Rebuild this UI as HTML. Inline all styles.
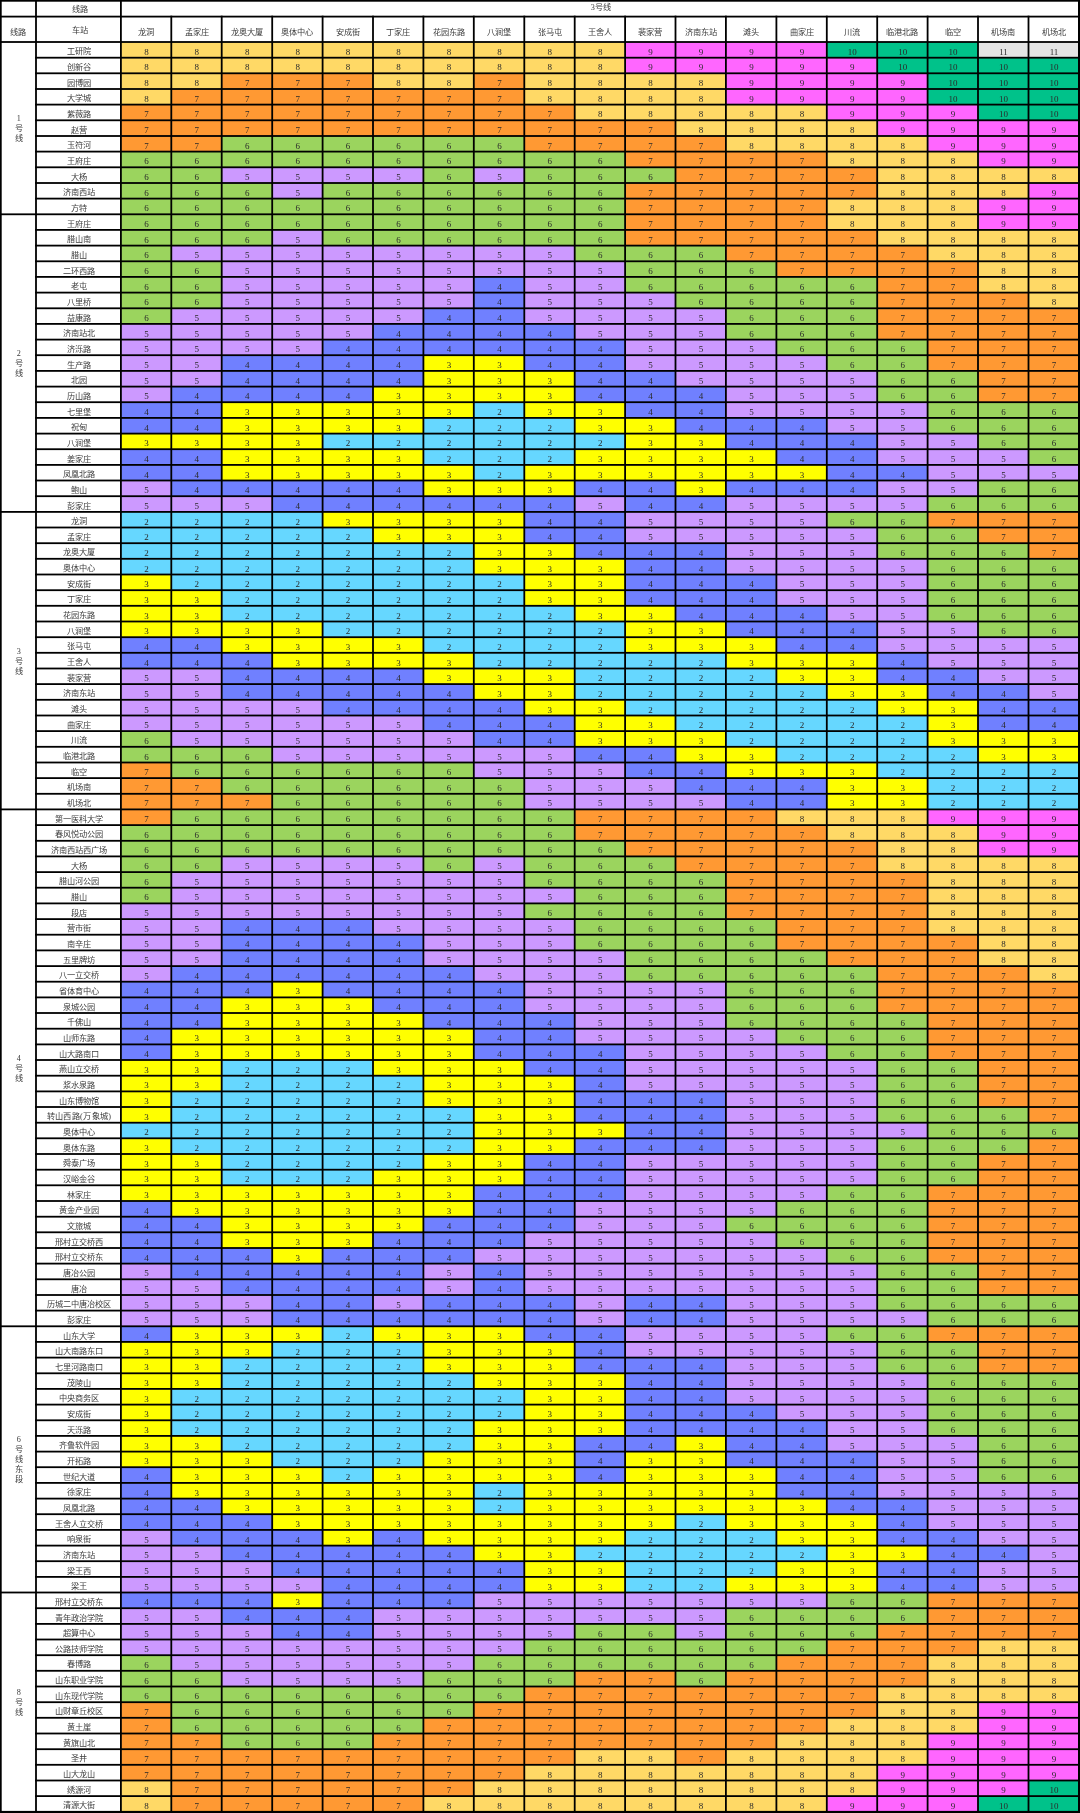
<!DOCTYPE html>
<html lang="zh-CN"><head><meta charset="utf-8"><title>3号线</title>
<style>
html,body{margin:0;padding:0;background:#fff;width:1080px;height:1813px;overflow:hidden;}
svg{display:block;will-change:transform;font-family:"Liberation Serif",serif;}
.c2{fill:#66d7ff}.c3{fill:#ffff00}.c4{fill:#7080ff}.c5{fill:#cc99ff}.c6{fill:#9bd45e}.c7{fill:#ff9933}.c8{fill:#ffd966}.c9{fill:#ff66ff}.c10{fill:#00c28a}.c11{fill:#e4e4e4}
</style></head><body>
<svg width="1080" height="1813" viewBox="0 0 1080 1813">
<rect x="0" y="0" width="1080" height="1813" fill="#fff"/>
<rect x="120.9" y="42" width="504.2" height="15.8" class="c8"/>
<rect x="625.1" y="42" width="201.7" height="15.8" class="c9"/>
<rect x="826.8" y="42" width="151.3" height="15.8" class="c10"/>
<rect x="978" y="42" width="100.8" height="15.8" class="c11"/>
<rect x="120.9" y="57.7" width="504.2" height="15.8" class="c8"/>
<rect x="625.1" y="57.7" width="252.1" height="15.8" class="c9"/>
<rect x="877.2" y="57.7" width="201.7" height="15.8" class="c10"/>
<rect x="120.9" y="73.3" width="100.8" height="15.8" class="c8"/>
<rect x="221.7" y="73.3" width="151.3" height="15.8" class="c7"/>
<rect x="373" y="73.3" width="100.8" height="15.8" class="c8"/>
<rect x="473.8" y="73.3" width="50.4" height="15.8" class="c7"/>
<rect x="524.3" y="73.3" width="201.7" height="15.8" class="c8"/>
<rect x="725.9" y="73.3" width="201.7" height="15.8" class="c9"/>
<rect x="927.6" y="73.3" width="151.3" height="15.8" class="c10"/>
<rect x="120.9" y="89" width="50.4" height="15.8" class="c8"/>
<rect x="171.3" y="89" width="352.9" height="15.8" class="c7"/>
<rect x="524.3" y="89" width="201.7" height="15.8" class="c8"/>
<rect x="725.9" y="89" width="201.7" height="15.8" class="c9"/>
<rect x="927.6" y="89" width="151.3" height="15.8" class="c10"/>
<rect x="120.9" y="104.6" width="453.8" height="15.8" class="c7"/>
<rect x="574.7" y="104.6" width="252.1" height="15.8" class="c8"/>
<rect x="826.8" y="104.6" width="151.3" height="15.8" class="c9"/>
<rect x="978" y="104.6" width="100.8" height="15.8" class="c10"/>
<rect x="120.9" y="120.3" width="554.6" height="15.8" class="c7"/>
<rect x="675.5" y="120.3" width="201.7" height="15.8" class="c8"/>
<rect x="877.2" y="120.3" width="201.7" height="15.8" class="c9"/>
<rect x="120.9" y="136" width="100.8" height="15.8" class="c7"/>
<rect x="221.7" y="136" width="302.5" height="15.8" class="c6"/>
<rect x="524.3" y="136" width="201.7" height="15.8" class="c7"/>
<rect x="725.9" y="136" width="201.7" height="15.8" class="c8"/>
<rect x="927.6" y="136" width="151.3" height="15.8" class="c9"/>
<rect x="120.9" y="151.6" width="504.2" height="15.8" class="c6"/>
<rect x="625.1" y="151.6" width="201.7" height="15.8" class="c7"/>
<rect x="826.8" y="151.6" width="151.3" height="15.8" class="c8"/>
<rect x="978" y="151.6" width="100.8" height="15.8" class="c9"/>
<rect x="120.9" y="167.3" width="100.8" height="15.8" class="c6"/>
<rect x="221.7" y="167.3" width="201.7" height="15.8" class="c5"/>
<rect x="423.4" y="167.3" width="50.4" height="15.8" class="c6"/>
<rect x="473.8" y="167.3" width="50.4" height="15.8" class="c5"/>
<rect x="524.3" y="167.3" width="151.3" height="15.8" class="c6"/>
<rect x="675.5" y="167.3" width="201.7" height="15.8" class="c7"/>
<rect x="877.2" y="167.3" width="201.7" height="15.8" class="c8"/>
<rect x="120.9" y="183" width="151.3" height="15.8" class="c6"/>
<rect x="272.2" y="183" width="50.4" height="15.8" class="c5"/>
<rect x="322.6" y="183" width="302.5" height="15.8" class="c6"/>
<rect x="625.1" y="183" width="252.1" height="15.8" class="c7"/>
<rect x="877.2" y="183" width="151.3" height="15.8" class="c8"/>
<rect x="1028.5" y="183" width="50.4" height="15.8" class="c9"/>
<rect x="120.9" y="198.6" width="504.2" height="15.8" class="c6"/>
<rect x="625.1" y="198.6" width="201.7" height="15.8" class="c7"/>
<rect x="826.8" y="198.6" width="151.3" height="15.8" class="c8"/>
<rect x="978" y="198.6" width="100.8" height="15.8" class="c9"/>
<rect x="120.9" y="214.3" width="504.2" height="15.8" class="c6"/>
<rect x="625.1" y="214.3" width="201.7" height="15.8" class="c7"/>
<rect x="826.8" y="214.3" width="151.3" height="15.8" class="c8"/>
<rect x="978" y="214.3" width="100.8" height="15.8" class="c9"/>
<rect x="120.9" y="229.9" width="151.3" height="15.8" class="c6"/>
<rect x="272.2" y="229.9" width="50.4" height="15.8" class="c5"/>
<rect x="322.6" y="229.9" width="302.5" height="15.8" class="c6"/>
<rect x="625.1" y="229.9" width="252.1" height="15.8" class="c7"/>
<rect x="877.2" y="229.9" width="201.7" height="15.8" class="c8"/>
<rect x="120.9" y="245.6" width="50.4" height="15.8" class="c6"/>
<rect x="171.3" y="245.6" width="403.4" height="15.8" class="c5"/>
<rect x="574.7" y="245.6" width="151.3" height="15.8" class="c6"/>
<rect x="725.9" y="245.6" width="201.7" height="15.8" class="c7"/>
<rect x="927.6" y="245.6" width="151.3" height="15.8" class="c8"/>
<rect x="120.9" y="261.3" width="100.8" height="15.8" class="c6"/>
<rect x="221.7" y="261.3" width="403.4" height="15.8" class="c5"/>
<rect x="625.1" y="261.3" width="151.3" height="15.8" class="c6"/>
<rect x="776.4" y="261.3" width="201.7" height="15.8" class="c7"/>
<rect x="978" y="261.3" width="100.8" height="15.8" class="c8"/>
<rect x="120.9" y="276.9" width="100.8" height="15.8" class="c6"/>
<rect x="221.7" y="276.9" width="252.1" height="15.8" class="c5"/>
<rect x="473.8" y="276.9" width="50.4" height="15.8" class="c4"/>
<rect x="524.3" y="276.9" width="100.8" height="15.8" class="c5"/>
<rect x="625.1" y="276.9" width="252.1" height="15.8" class="c6"/>
<rect x="877.2" y="276.9" width="100.8" height="15.8" class="c7"/>
<rect x="978" y="276.9" width="100.8" height="15.8" class="c8"/>
<rect x="120.9" y="292.6" width="100.8" height="15.8" class="c6"/>
<rect x="221.7" y="292.6" width="252.1" height="15.8" class="c5"/>
<rect x="473.8" y="292.6" width="50.4" height="15.8" class="c4"/>
<rect x="524.3" y="292.6" width="151.3" height="15.8" class="c5"/>
<rect x="675.5" y="292.6" width="201.7" height="15.8" class="c6"/>
<rect x="877.2" y="292.6" width="151.3" height="15.8" class="c7"/>
<rect x="1028.5" y="292.6" width="50.4" height="15.8" class="c8"/>
<rect x="120.9" y="308.3" width="50.4" height="15.8" class="c6"/>
<rect x="171.3" y="308.3" width="252.1" height="15.8" class="c5"/>
<rect x="423.4" y="308.3" width="100.8" height="15.8" class="c4"/>
<rect x="524.3" y="308.3" width="201.7" height="15.8" class="c5"/>
<rect x="725.9" y="308.3" width="151.3" height="15.8" class="c6"/>
<rect x="877.2" y="308.3" width="201.7" height="15.8" class="c7"/>
<rect x="120.9" y="323.9" width="252.1" height="15.8" class="c5"/>
<rect x="373" y="323.9" width="201.7" height="15.8" class="c4"/>
<rect x="574.7" y="323.9" width="151.3" height="15.8" class="c5"/>
<rect x="725.9" y="323.9" width="151.3" height="15.8" class="c6"/>
<rect x="877.2" y="323.9" width="201.7" height="15.8" class="c7"/>
<rect x="120.9" y="339.6" width="201.7" height="15.8" class="c5"/>
<rect x="322.6" y="339.6" width="302.5" height="15.8" class="c4"/>
<rect x="625.1" y="339.6" width="151.3" height="15.8" class="c5"/>
<rect x="776.4" y="339.6" width="151.3" height="15.8" class="c6"/>
<rect x="927.6" y="339.6" width="151.3" height="15.8" class="c7"/>
<rect x="120.9" y="355.2" width="100.8" height="15.8" class="c5"/>
<rect x="221.7" y="355.2" width="201.7" height="15.8" class="c4"/>
<rect x="423.4" y="355.2" width="100.8" height="15.8" class="c3"/>
<rect x="524.3" y="355.2" width="100.8" height="15.8" class="c4"/>
<rect x="625.1" y="355.2" width="201.7" height="15.8" class="c5"/>
<rect x="826.8" y="355.2" width="100.8" height="15.8" class="c6"/>
<rect x="927.6" y="355.2" width="151.3" height="15.8" class="c7"/>
<rect x="120.9" y="370.9" width="100.8" height="15.8" class="c5"/>
<rect x="221.7" y="370.9" width="201.7" height="15.8" class="c4"/>
<rect x="423.4" y="370.9" width="151.3" height="15.8" class="c3"/>
<rect x="574.7" y="370.9" width="100.8" height="15.8" class="c4"/>
<rect x="675.5" y="370.9" width="201.7" height="15.8" class="c5"/>
<rect x="877.2" y="370.9" width="100.8" height="15.8" class="c6"/>
<rect x="978" y="370.9" width="100.8" height="15.8" class="c7"/>
<rect x="120.9" y="386.6" width="50.4" height="15.8" class="c5"/>
<rect x="171.3" y="386.6" width="201.7" height="15.8" class="c4"/>
<rect x="373" y="386.6" width="201.7" height="15.8" class="c3"/>
<rect x="574.7" y="386.6" width="151.3" height="15.8" class="c4"/>
<rect x="725.9" y="386.6" width="151.3" height="15.8" class="c5"/>
<rect x="877.2" y="386.6" width="100.8" height="15.8" class="c6"/>
<rect x="978" y="386.6" width="100.8" height="15.8" class="c7"/>
<rect x="120.9" y="402.2" width="100.8" height="15.8" class="c4"/>
<rect x="221.7" y="402.2" width="252.1" height="15.8" class="c3"/>
<rect x="473.8" y="402.2" width="50.4" height="15.8" class="c2"/>
<rect x="524.3" y="402.2" width="100.8" height="15.8" class="c3"/>
<rect x="625.1" y="402.2" width="100.8" height="15.8" class="c4"/>
<rect x="725.9" y="402.2" width="201.7" height="15.8" class="c5"/>
<rect x="927.6" y="402.2" width="151.3" height="15.8" class="c6"/>
<rect x="120.9" y="417.9" width="100.8" height="15.8" class="c4"/>
<rect x="221.7" y="417.9" width="201.7" height="15.8" class="c3"/>
<rect x="423.4" y="417.9" width="151.3" height="15.8" class="c2"/>
<rect x="574.7" y="417.9" width="100.8" height="15.8" class="c3"/>
<rect x="675.5" y="417.9" width="151.3" height="15.8" class="c4"/>
<rect x="826.8" y="417.9" width="100.8" height="15.8" class="c5"/>
<rect x="927.6" y="417.9" width="151.3" height="15.8" class="c6"/>
<rect x="120.9" y="433.6" width="201.7" height="15.8" class="c3"/>
<rect x="322.6" y="433.6" width="302.5" height="15.8" class="c2"/>
<rect x="625.1" y="433.6" width="100.8" height="15.8" class="c3"/>
<rect x="725.9" y="433.6" width="151.3" height="15.8" class="c4"/>
<rect x="877.2" y="433.6" width="100.8" height="15.8" class="c5"/>
<rect x="978" y="433.6" width="100.8" height="15.8" class="c6"/>
<rect x="120.9" y="449.2" width="100.8" height="15.8" class="c4"/>
<rect x="221.7" y="449.2" width="201.7" height="15.8" class="c3"/>
<rect x="423.4" y="449.2" width="151.3" height="15.8" class="c2"/>
<rect x="574.7" y="449.2" width="201.7" height="15.8" class="c3"/>
<rect x="776.4" y="449.2" width="100.8" height="15.8" class="c4"/>
<rect x="877.2" y="449.2" width="151.3" height="15.8" class="c5"/>
<rect x="1028.5" y="449.2" width="50.4" height="15.8" class="c6"/>
<rect x="120.9" y="464.9" width="100.8" height="15.8" class="c4"/>
<rect x="221.7" y="464.9" width="252.1" height="15.8" class="c3"/>
<rect x="473.8" y="464.9" width="50.4" height="15.8" class="c2"/>
<rect x="524.3" y="464.9" width="302.5" height="15.8" class="c3"/>
<rect x="826.8" y="464.9" width="100.8" height="15.8" class="c4"/>
<rect x="927.6" y="464.9" width="151.3" height="15.8" class="c5"/>
<rect x="120.9" y="480.5" width="50.4" height="15.8" class="c5"/>
<rect x="171.3" y="480.5" width="252.1" height="15.8" class="c4"/>
<rect x="423.4" y="480.5" width="151.3" height="15.8" class="c3"/>
<rect x="574.7" y="480.5" width="100.8" height="15.8" class="c4"/>
<rect x="675.5" y="480.5" width="50.4" height="15.8" class="c3"/>
<rect x="725.9" y="480.5" width="151.3" height="15.8" class="c4"/>
<rect x="877.2" y="480.5" width="100.8" height="15.8" class="c5"/>
<rect x="978" y="480.5" width="100.8" height="15.8" class="c6"/>
<rect x="120.9" y="496.2" width="151.3" height="15.8" class="c5"/>
<rect x="272.2" y="496.2" width="302.5" height="15.8" class="c4"/>
<rect x="574.7" y="496.2" width="50.4" height="15.8" class="c5"/>
<rect x="625.1" y="496.2" width="100.8" height="15.8" class="c4"/>
<rect x="725.9" y="496.2" width="201.7" height="15.8" class="c5"/>
<rect x="927.6" y="496.2" width="151.3" height="15.8" class="c6"/>
<rect x="120.9" y="511.9" width="201.7" height="15.8" class="c2"/>
<rect x="322.6" y="511.9" width="201.7" height="15.8" class="c3"/>
<rect x="524.3" y="511.9" width="100.8" height="15.8" class="c4"/>
<rect x="625.1" y="511.9" width="201.7" height="15.8" class="c5"/>
<rect x="826.8" y="511.9" width="100.8" height="15.8" class="c6"/>
<rect x="927.6" y="511.9" width="151.3" height="15.8" class="c7"/>
<rect x="120.9" y="527.5" width="252.1" height="15.8" class="c2"/>
<rect x="373" y="527.5" width="151.3" height="15.8" class="c3"/>
<rect x="524.3" y="527.5" width="100.8" height="15.8" class="c4"/>
<rect x="625.1" y="527.5" width="252.1" height="15.8" class="c5"/>
<rect x="877.2" y="527.5" width="100.8" height="15.8" class="c6"/>
<rect x="978" y="527.5" width="100.8" height="15.8" class="c7"/>
<rect x="120.9" y="543.2" width="352.9" height="15.8" class="c2"/>
<rect x="473.8" y="543.2" width="100.8" height="15.8" class="c3"/>
<rect x="574.7" y="543.2" width="151.3" height="15.8" class="c4"/>
<rect x="725.9" y="543.2" width="151.3" height="15.8" class="c5"/>
<rect x="877.2" y="543.2" width="151.3" height="15.8" class="c6"/>
<rect x="1028.5" y="543.2" width="50.4" height="15.8" class="c7"/>
<rect x="120.9" y="558.8" width="352.9" height="15.8" class="c2"/>
<rect x="473.8" y="558.8" width="151.3" height="15.8" class="c3"/>
<rect x="625.1" y="558.8" width="100.8" height="15.8" class="c4"/>
<rect x="725.9" y="558.8" width="201.7" height="15.8" class="c5"/>
<rect x="927.6" y="558.8" width="151.3" height="15.8" class="c6"/>
<rect x="120.9" y="574.5" width="50.4" height="15.8" class="c3"/>
<rect x="171.3" y="574.5" width="352.9" height="15.8" class="c2"/>
<rect x="524.3" y="574.5" width="100.8" height="15.8" class="c3"/>
<rect x="625.1" y="574.5" width="151.3" height="15.8" class="c4"/>
<rect x="776.4" y="574.5" width="151.3" height="15.8" class="c5"/>
<rect x="927.6" y="574.5" width="151.3" height="15.8" class="c6"/>
<rect x="120.9" y="590.2" width="100.8" height="15.8" class="c3"/>
<rect x="221.7" y="590.2" width="302.5" height="15.8" class="c2"/>
<rect x="524.3" y="590.2" width="100.8" height="15.8" class="c3"/>
<rect x="625.1" y="590.2" width="151.3" height="15.8" class="c4"/>
<rect x="776.4" y="590.2" width="151.3" height="15.8" class="c5"/>
<rect x="927.6" y="590.2" width="151.3" height="15.8" class="c6"/>
<rect x="120.9" y="605.8" width="100.8" height="15.8" class="c3"/>
<rect x="221.7" y="605.8" width="352.9" height="15.8" class="c2"/>
<rect x="574.7" y="605.8" width="100.8" height="15.8" class="c3"/>
<rect x="675.5" y="605.8" width="151.3" height="15.8" class="c4"/>
<rect x="826.8" y="605.8" width="100.8" height="15.8" class="c5"/>
<rect x="927.6" y="605.8" width="151.3" height="15.8" class="c6"/>
<rect x="120.9" y="621.5" width="201.7" height="15.8" class="c3"/>
<rect x="322.6" y="621.5" width="302.5" height="15.8" class="c2"/>
<rect x="625.1" y="621.5" width="100.8" height="15.8" class="c3"/>
<rect x="725.9" y="621.5" width="151.3" height="15.8" class="c4"/>
<rect x="877.2" y="621.5" width="100.8" height="15.8" class="c5"/>
<rect x="978" y="621.5" width="100.8" height="15.8" class="c6"/>
<rect x="120.9" y="637.2" width="100.8" height="15.8" class="c4"/>
<rect x="221.7" y="637.2" width="201.7" height="15.8" class="c3"/>
<rect x="423.4" y="637.2" width="201.7" height="15.8" class="c2"/>
<rect x="625.1" y="637.2" width="151.3" height="15.8" class="c3"/>
<rect x="776.4" y="637.2" width="100.8" height="15.8" class="c4"/>
<rect x="877.2" y="637.2" width="201.7" height="15.8" class="c5"/>
<rect x="120.9" y="652.8" width="151.3" height="15.8" class="c4"/>
<rect x="272.2" y="652.8" width="201.7" height="15.8" class="c3"/>
<rect x="473.8" y="652.8" width="252.1" height="15.8" class="c2"/>
<rect x="725.9" y="652.8" width="151.3" height="15.8" class="c3"/>
<rect x="877.2" y="652.8" width="50.4" height="15.8" class="c4"/>
<rect x="927.6" y="652.8" width="151.3" height="15.8" class="c5"/>
<rect x="120.9" y="668.5" width="100.8" height="15.8" class="c5"/>
<rect x="221.7" y="668.5" width="201.7" height="15.8" class="c4"/>
<rect x="423.4" y="668.5" width="151.3" height="15.8" class="c3"/>
<rect x="574.7" y="668.5" width="201.7" height="15.8" class="c2"/>
<rect x="776.4" y="668.5" width="100.8" height="15.8" class="c3"/>
<rect x="877.2" y="668.5" width="100.8" height="15.8" class="c4"/>
<rect x="978" y="668.5" width="100.8" height="15.8" class="c5"/>
<rect x="120.9" y="684.1" width="100.8" height="15.8" class="c5"/>
<rect x="221.7" y="684.1" width="252.1" height="15.8" class="c4"/>
<rect x="473.8" y="684.1" width="100.8" height="15.8" class="c3"/>
<rect x="574.7" y="684.1" width="252.1" height="15.8" class="c2"/>
<rect x="826.8" y="684.1" width="100.8" height="15.8" class="c3"/>
<rect x="927.6" y="684.1" width="100.8" height="15.8" class="c4"/>
<rect x="1028.5" y="684.1" width="50.4" height="15.8" class="c5"/>
<rect x="120.9" y="699.8" width="201.7" height="15.8" class="c5"/>
<rect x="322.6" y="699.8" width="201.7" height="15.8" class="c4"/>
<rect x="524.3" y="699.8" width="100.8" height="15.8" class="c3"/>
<rect x="625.1" y="699.8" width="252.1" height="15.8" class="c2"/>
<rect x="877.2" y="699.8" width="100.8" height="15.8" class="c3"/>
<rect x="978" y="699.8" width="100.8" height="15.8" class="c4"/>
<rect x="120.9" y="715.5" width="302.5" height="15.8" class="c5"/>
<rect x="423.4" y="715.5" width="151.3" height="15.8" class="c4"/>
<rect x="574.7" y="715.5" width="100.8" height="15.8" class="c3"/>
<rect x="675.5" y="715.5" width="252.1" height="15.8" class="c2"/>
<rect x="927.6" y="715.5" width="50.4" height="15.8" class="c3"/>
<rect x="978" y="715.5" width="100.8" height="15.8" class="c4"/>
<rect x="120.9" y="731.1" width="50.4" height="15.8" class="c6"/>
<rect x="171.3" y="731.1" width="302.5" height="15.8" class="c5"/>
<rect x="473.8" y="731.1" width="100.8" height="15.8" class="c4"/>
<rect x="574.7" y="731.1" width="151.3" height="15.8" class="c3"/>
<rect x="725.9" y="731.1" width="201.7" height="15.8" class="c2"/>
<rect x="927.6" y="731.1" width="151.3" height="15.8" class="c3"/>
<rect x="120.9" y="746.8" width="151.3" height="15.8" class="c6"/>
<rect x="272.2" y="746.8" width="302.5" height="15.8" class="c5"/>
<rect x="574.7" y="746.8" width="100.8" height="15.8" class="c4"/>
<rect x="675.5" y="746.8" width="100.8" height="15.8" class="c3"/>
<rect x="776.4" y="746.8" width="201.7" height="15.8" class="c2"/>
<rect x="978" y="746.8" width="100.8" height="15.8" class="c3"/>
<rect x="120.9" y="762.5" width="50.4" height="15.8" class="c7"/>
<rect x="171.3" y="762.5" width="302.5" height="15.8" class="c6"/>
<rect x="473.8" y="762.5" width="151.3" height="15.8" class="c5"/>
<rect x="625.1" y="762.5" width="100.8" height="15.8" class="c4"/>
<rect x="725.9" y="762.5" width="151.3" height="15.8" class="c3"/>
<rect x="877.2" y="762.5" width="201.7" height="15.8" class="c2"/>
<rect x="120.9" y="778.1" width="100.8" height="15.8" class="c7"/>
<rect x="221.7" y="778.1" width="302.5" height="15.8" class="c6"/>
<rect x="524.3" y="778.1" width="151.3" height="15.8" class="c5"/>
<rect x="675.5" y="778.1" width="151.3" height="15.8" class="c4"/>
<rect x="826.8" y="778.1" width="100.8" height="15.8" class="c3"/>
<rect x="927.6" y="778.1" width="151.3" height="15.8" class="c2"/>
<rect x="120.9" y="793.8" width="151.3" height="15.8" class="c7"/>
<rect x="272.2" y="793.8" width="252.1" height="15.8" class="c6"/>
<rect x="524.3" y="793.8" width="201.7" height="15.8" class="c5"/>
<rect x="725.9" y="793.8" width="100.8" height="15.8" class="c4"/>
<rect x="826.8" y="793.8" width="100.8" height="15.8" class="c3"/>
<rect x="927.6" y="793.8" width="151.3" height="15.8" class="c2"/>
<rect x="120.9" y="809.4" width="50.4" height="15.8" class="c7"/>
<rect x="171.3" y="809.4" width="403.4" height="15.8" class="c6"/>
<rect x="574.7" y="809.4" width="201.7" height="15.8" class="c7"/>
<rect x="776.4" y="809.4" width="151.3" height="15.8" class="c8"/>
<rect x="927.6" y="809.4" width="151.3" height="15.8" class="c9"/>
<rect x="120.9" y="825.1" width="453.8" height="15.8" class="c6"/>
<rect x="574.7" y="825.1" width="252.1" height="15.8" class="c7"/>
<rect x="826.8" y="825.1" width="151.3" height="15.8" class="c8"/>
<rect x="978" y="825.1" width="100.8" height="15.8" class="c9"/>
<rect x="120.9" y="840.8" width="504.2" height="15.8" class="c6"/>
<rect x="625.1" y="840.8" width="252.1" height="15.8" class="c7"/>
<rect x="877.2" y="840.8" width="100.8" height="15.8" class="c8"/>
<rect x="978" y="840.8" width="100.8" height="15.8" class="c9"/>
<rect x="120.9" y="856.4" width="100.8" height="15.8" class="c6"/>
<rect x="221.7" y="856.4" width="201.7" height="15.8" class="c5"/>
<rect x="423.4" y="856.4" width="50.4" height="15.8" class="c6"/>
<rect x="473.8" y="856.4" width="50.4" height="15.8" class="c5"/>
<rect x="524.3" y="856.4" width="151.3" height="15.8" class="c6"/>
<rect x="675.5" y="856.4" width="201.7" height="15.8" class="c7"/>
<rect x="877.2" y="856.4" width="201.7" height="15.8" class="c8"/>
<rect x="120.9" y="872.1" width="50.4" height="15.8" class="c6"/>
<rect x="171.3" y="872.1" width="352.9" height="15.8" class="c5"/>
<rect x="524.3" y="872.1" width="201.7" height="15.8" class="c6"/>
<rect x="725.9" y="872.1" width="201.7" height="15.8" class="c7"/>
<rect x="927.6" y="872.1" width="151.3" height="15.8" class="c8"/>
<rect x="120.9" y="887.7" width="50.4" height="15.8" class="c6"/>
<rect x="171.3" y="887.7" width="403.4" height="15.8" class="c5"/>
<rect x="574.7" y="887.7" width="151.3" height="15.8" class="c6"/>
<rect x="725.9" y="887.7" width="201.7" height="15.8" class="c7"/>
<rect x="927.6" y="887.7" width="151.3" height="15.8" class="c8"/>
<rect x="120.9" y="903.4" width="403.4" height="15.8" class="c5"/>
<rect x="524.3" y="903.4" width="201.7" height="15.8" class="c6"/>
<rect x="725.9" y="903.4" width="201.7" height="15.8" class="c7"/>
<rect x="927.6" y="903.4" width="151.3" height="15.8" class="c8"/>
<rect x="120.9" y="919.1" width="100.8" height="15.8" class="c5"/>
<rect x="221.7" y="919.1" width="151.3" height="15.8" class="c4"/>
<rect x="373" y="919.1" width="201.7" height="15.8" class="c5"/>
<rect x="574.7" y="919.1" width="201.7" height="15.8" class="c6"/>
<rect x="776.4" y="919.1" width="151.3" height="15.8" class="c7"/>
<rect x="927.6" y="919.1" width="151.3" height="15.8" class="c8"/>
<rect x="120.9" y="934.7" width="100.8" height="15.8" class="c5"/>
<rect x="221.7" y="934.7" width="201.7" height="15.8" class="c4"/>
<rect x="423.4" y="934.7" width="151.3" height="15.8" class="c5"/>
<rect x="574.7" y="934.7" width="201.7" height="15.8" class="c6"/>
<rect x="776.4" y="934.7" width="201.7" height="15.8" class="c7"/>
<rect x="978" y="934.7" width="100.8" height="15.8" class="c8"/>
<rect x="120.9" y="950.4" width="100.8" height="15.8" class="c5"/>
<rect x="221.7" y="950.4" width="201.7" height="15.8" class="c4"/>
<rect x="423.4" y="950.4" width="201.7" height="15.8" class="c5"/>
<rect x="625.1" y="950.4" width="201.7" height="15.8" class="c6"/>
<rect x="826.8" y="950.4" width="151.3" height="15.8" class="c7"/>
<rect x="978" y="950.4" width="100.8" height="15.8" class="c8"/>
<rect x="120.9" y="966.1" width="50.4" height="15.8" class="c5"/>
<rect x="171.3" y="966.1" width="302.5" height="15.8" class="c4"/>
<rect x="473.8" y="966.1" width="151.3" height="15.8" class="c5"/>
<rect x="625.1" y="966.1" width="252.1" height="15.8" class="c6"/>
<rect x="877.2" y="966.1" width="151.3" height="15.8" class="c7"/>
<rect x="1028.5" y="966.1" width="50.4" height="15.8" class="c8"/>
<rect x="120.9" y="981.7" width="151.3" height="15.8" class="c4"/>
<rect x="272.2" y="981.7" width="50.4" height="15.8" class="c3"/>
<rect x="322.6" y="981.7" width="201.7" height="15.8" class="c4"/>
<rect x="524.3" y="981.7" width="201.7" height="15.8" class="c5"/>
<rect x="725.9" y="981.7" width="151.3" height="15.8" class="c6"/>
<rect x="877.2" y="981.7" width="201.7" height="15.8" class="c7"/>
<rect x="120.9" y="997.4" width="100.8" height="15.8" class="c4"/>
<rect x="221.7" y="997.4" width="151.3" height="15.8" class="c3"/>
<rect x="373" y="997.4" width="151.3" height="15.8" class="c4"/>
<rect x="524.3" y="997.4" width="201.7" height="15.8" class="c5"/>
<rect x="725.9" y="997.4" width="151.3" height="15.8" class="c6"/>
<rect x="877.2" y="997.4" width="201.7" height="15.8" class="c7"/>
<rect x="120.9" y="1013" width="100.8" height="15.8" class="c4"/>
<rect x="221.7" y="1013" width="201.7" height="15.8" class="c3"/>
<rect x="423.4" y="1013" width="151.3" height="15.8" class="c4"/>
<rect x="574.7" y="1013" width="151.3" height="15.8" class="c5"/>
<rect x="725.9" y="1013" width="201.7" height="15.8" class="c6"/>
<rect x="927.6" y="1013" width="151.3" height="15.8" class="c7"/>
<rect x="120.9" y="1028.7" width="50.4" height="15.8" class="c4"/>
<rect x="171.3" y="1028.7" width="302.5" height="15.8" class="c3"/>
<rect x="473.8" y="1028.7" width="100.8" height="15.8" class="c4"/>
<rect x="574.7" y="1028.7" width="201.7" height="15.8" class="c5"/>
<rect x="776.4" y="1028.7" width="151.3" height="15.8" class="c6"/>
<rect x="927.6" y="1028.7" width="151.3" height="15.8" class="c7"/>
<rect x="120.9" y="1044.4" width="50.4" height="15.8" class="c4"/>
<rect x="171.3" y="1044.4" width="302.5" height="15.8" class="c3"/>
<rect x="473.8" y="1044.4" width="151.3" height="15.8" class="c4"/>
<rect x="625.1" y="1044.4" width="201.7" height="15.8" class="c5"/>
<rect x="826.8" y="1044.4" width="100.8" height="15.8" class="c6"/>
<rect x="927.6" y="1044.4" width="151.3" height="15.8" class="c7"/>
<rect x="120.9" y="1060" width="100.8" height="15.8" class="c3"/>
<rect x="221.7" y="1060" width="151.3" height="15.8" class="c2"/>
<rect x="373" y="1060" width="151.3" height="15.8" class="c3"/>
<rect x="524.3" y="1060" width="100.8" height="15.8" class="c4"/>
<rect x="625.1" y="1060" width="252.1" height="15.8" class="c5"/>
<rect x="877.2" y="1060" width="100.8" height="15.8" class="c6"/>
<rect x="978" y="1060" width="100.8" height="15.8" class="c7"/>
<rect x="120.9" y="1075.7" width="100.8" height="15.8" class="c3"/>
<rect x="221.7" y="1075.7" width="201.7" height="15.8" class="c2"/>
<rect x="423.4" y="1075.7" width="151.3" height="15.8" class="c3"/>
<rect x="574.7" y="1075.7" width="50.4" height="15.8" class="c4"/>
<rect x="625.1" y="1075.7" width="252.1" height="15.8" class="c5"/>
<rect x="877.2" y="1075.7" width="100.8" height="15.8" class="c6"/>
<rect x="978" y="1075.7" width="100.8" height="15.8" class="c7"/>
<rect x="120.9" y="1091.4" width="50.4" height="15.8" class="c3"/>
<rect x="171.3" y="1091.4" width="252.1" height="15.8" class="c2"/>
<rect x="423.4" y="1091.4" width="151.3" height="15.8" class="c3"/>
<rect x="574.7" y="1091.4" width="151.3" height="15.8" class="c4"/>
<rect x="725.9" y="1091.4" width="151.3" height="15.8" class="c5"/>
<rect x="877.2" y="1091.4" width="100.8" height="15.8" class="c6"/>
<rect x="978" y="1091.4" width="100.8" height="15.8" class="c7"/>
<rect x="120.9" y="1107" width="50.4" height="15.8" class="c3"/>
<rect x="171.3" y="1107" width="302.5" height="15.8" class="c2"/>
<rect x="473.8" y="1107" width="100.8" height="15.8" class="c3"/>
<rect x="574.7" y="1107" width="151.3" height="15.8" class="c4"/>
<rect x="725.9" y="1107" width="151.3" height="15.8" class="c5"/>
<rect x="877.2" y="1107" width="151.3" height="15.8" class="c6"/>
<rect x="1028.5" y="1107" width="50.4" height="15.8" class="c7"/>
<rect x="120.9" y="1122.7" width="352.9" height="15.8" class="c2"/>
<rect x="473.8" y="1122.7" width="151.3" height="15.8" class="c3"/>
<rect x="625.1" y="1122.7" width="100.8" height="15.8" class="c4"/>
<rect x="725.9" y="1122.7" width="201.7" height="15.8" class="c5"/>
<rect x="927.6" y="1122.7" width="151.3" height="15.8" class="c6"/>
<rect x="120.9" y="1138.3" width="50.4" height="15.8" class="c3"/>
<rect x="171.3" y="1138.3" width="302.5" height="15.8" class="c2"/>
<rect x="473.8" y="1138.3" width="100.8" height="15.8" class="c3"/>
<rect x="574.7" y="1138.3" width="151.3" height="15.8" class="c4"/>
<rect x="725.9" y="1138.3" width="151.3" height="15.8" class="c5"/>
<rect x="877.2" y="1138.3" width="151.3" height="15.8" class="c6"/>
<rect x="1028.5" y="1138.3" width="50.4" height="15.8" class="c7"/>
<rect x="120.9" y="1154" width="100.8" height="15.8" class="c3"/>
<rect x="221.7" y="1154" width="201.7" height="15.8" class="c2"/>
<rect x="423.4" y="1154" width="100.8" height="15.8" class="c3"/>
<rect x="524.3" y="1154" width="100.8" height="15.8" class="c4"/>
<rect x="625.1" y="1154" width="252.1" height="15.8" class="c5"/>
<rect x="877.2" y="1154" width="100.8" height="15.8" class="c6"/>
<rect x="978" y="1154" width="100.8" height="15.8" class="c7"/>
<rect x="120.9" y="1169.7" width="100.8" height="15.8" class="c3"/>
<rect x="221.7" y="1169.7" width="151.3" height="15.8" class="c2"/>
<rect x="373" y="1169.7" width="151.3" height="15.8" class="c3"/>
<rect x="524.3" y="1169.7" width="100.8" height="15.8" class="c4"/>
<rect x="625.1" y="1169.7" width="252.1" height="15.8" class="c5"/>
<rect x="877.2" y="1169.7" width="100.8" height="15.8" class="c6"/>
<rect x="978" y="1169.7" width="100.8" height="15.8" class="c7"/>
<rect x="120.9" y="1185.3" width="352.9" height="15.8" class="c3"/>
<rect x="473.8" y="1185.3" width="151.3" height="15.8" class="c4"/>
<rect x="625.1" y="1185.3" width="201.7" height="15.8" class="c5"/>
<rect x="826.8" y="1185.3" width="100.8" height="15.8" class="c6"/>
<rect x="927.6" y="1185.3" width="151.3" height="15.8" class="c7"/>
<rect x="120.9" y="1201" width="50.4" height="15.8" class="c4"/>
<rect x="171.3" y="1201" width="302.5" height="15.8" class="c3"/>
<rect x="473.8" y="1201" width="100.8" height="15.8" class="c4"/>
<rect x="574.7" y="1201" width="201.7" height="15.8" class="c5"/>
<rect x="776.4" y="1201" width="151.3" height="15.8" class="c6"/>
<rect x="927.6" y="1201" width="151.3" height="15.8" class="c7"/>
<rect x="120.9" y="1216.7" width="100.8" height="15.8" class="c4"/>
<rect x="221.7" y="1216.7" width="201.7" height="15.8" class="c3"/>
<rect x="423.4" y="1216.7" width="151.3" height="15.8" class="c4"/>
<rect x="574.7" y="1216.7" width="151.3" height="15.8" class="c5"/>
<rect x="725.9" y="1216.7" width="201.7" height="15.8" class="c6"/>
<rect x="927.6" y="1216.7" width="151.3" height="15.8" class="c7"/>
<rect x="120.9" y="1232.3" width="100.8" height="15.8" class="c4"/>
<rect x="221.7" y="1232.3" width="151.3" height="15.8" class="c3"/>
<rect x="373" y="1232.3" width="151.3" height="15.8" class="c4"/>
<rect x="524.3" y="1232.3" width="252.1" height="15.8" class="c5"/>
<rect x="776.4" y="1232.3" width="151.3" height="15.8" class="c6"/>
<rect x="927.6" y="1232.3" width="151.3" height="15.8" class="c7"/>
<rect x="120.9" y="1248" width="151.3" height="15.8" class="c4"/>
<rect x="272.2" y="1248" width="50.4" height="15.8" class="c3"/>
<rect x="322.6" y="1248" width="151.3" height="15.8" class="c4"/>
<rect x="473.8" y="1248" width="352.9" height="15.8" class="c5"/>
<rect x="826.8" y="1248" width="100.8" height="15.8" class="c6"/>
<rect x="927.6" y="1248" width="151.3" height="15.8" class="c7"/>
<rect x="120.9" y="1263.6" width="50.4" height="15.8" class="c5"/>
<rect x="171.3" y="1263.6" width="252.1" height="15.8" class="c4"/>
<rect x="423.4" y="1263.6" width="50.4" height="15.8" class="c5"/>
<rect x="473.8" y="1263.6" width="50.4" height="15.8" class="c4"/>
<rect x="524.3" y="1263.6" width="352.9" height="15.8" class="c5"/>
<rect x="877.2" y="1263.6" width="100.8" height="15.8" class="c6"/>
<rect x="978" y="1263.6" width="100.8" height="15.8" class="c7"/>
<rect x="120.9" y="1279.3" width="100.8" height="15.8" class="c5"/>
<rect x="221.7" y="1279.3" width="201.7" height="15.8" class="c4"/>
<rect x="423.4" y="1279.3" width="50.4" height="15.8" class="c5"/>
<rect x="473.8" y="1279.3" width="50.4" height="15.8" class="c4"/>
<rect x="524.3" y="1279.3" width="352.9" height="15.8" class="c5"/>
<rect x="877.2" y="1279.3" width="100.8" height="15.8" class="c6"/>
<rect x="978" y="1279.3" width="100.8" height="15.8" class="c7"/>
<rect x="120.9" y="1295" width="151.3" height="15.8" class="c5"/>
<rect x="272.2" y="1295" width="100.8" height="15.8" class="c4"/>
<rect x="373" y="1295" width="50.4" height="15.8" class="c5"/>
<rect x="423.4" y="1295" width="151.3" height="15.8" class="c4"/>
<rect x="574.7" y="1295" width="50.4" height="15.8" class="c5"/>
<rect x="625.1" y="1295" width="100.8" height="15.8" class="c4"/>
<rect x="725.9" y="1295" width="151.3" height="15.8" class="c5"/>
<rect x="877.2" y="1295" width="201.7" height="15.8" class="c6"/>
<rect x="120.9" y="1310.6" width="151.3" height="15.8" class="c5"/>
<rect x="272.2" y="1310.6" width="302.5" height="15.8" class="c4"/>
<rect x="574.7" y="1310.6" width="50.4" height="15.8" class="c5"/>
<rect x="625.1" y="1310.6" width="100.8" height="15.8" class="c4"/>
<rect x="725.9" y="1310.6" width="201.7" height="15.8" class="c5"/>
<rect x="927.6" y="1310.6" width="151.3" height="15.8" class="c6"/>
<rect x="120.9" y="1326.3" width="50.4" height="15.8" class="c4"/>
<rect x="171.3" y="1326.3" width="151.3" height="15.8" class="c3"/>
<rect x="322.6" y="1326.3" width="50.4" height="15.8" class="c2"/>
<rect x="373" y="1326.3" width="151.3" height="15.8" class="c3"/>
<rect x="524.3" y="1326.3" width="100.8" height="15.8" class="c4"/>
<rect x="625.1" y="1326.3" width="201.7" height="15.8" class="c5"/>
<rect x="826.8" y="1326.3" width="100.8" height="15.8" class="c6"/>
<rect x="927.6" y="1326.3" width="151.3" height="15.8" class="c7"/>
<rect x="120.9" y="1341.9" width="151.3" height="15.8" class="c3"/>
<rect x="272.2" y="1341.9" width="151.3" height="15.8" class="c2"/>
<rect x="423.4" y="1341.9" width="151.3" height="15.8" class="c3"/>
<rect x="574.7" y="1341.9" width="50.4" height="15.8" class="c4"/>
<rect x="625.1" y="1341.9" width="252.1" height="15.8" class="c5"/>
<rect x="877.2" y="1341.9" width="100.8" height="15.8" class="c6"/>
<rect x="978" y="1341.9" width="100.8" height="15.8" class="c7"/>
<rect x="120.9" y="1357.6" width="100.8" height="15.8" class="c3"/>
<rect x="221.7" y="1357.6" width="201.7" height="15.8" class="c2"/>
<rect x="423.4" y="1357.6" width="151.3" height="15.8" class="c3"/>
<rect x="574.7" y="1357.6" width="151.3" height="15.8" class="c4"/>
<rect x="725.9" y="1357.6" width="151.3" height="15.8" class="c5"/>
<rect x="877.2" y="1357.6" width="100.8" height="15.8" class="c6"/>
<rect x="978" y="1357.6" width="100.8" height="15.8" class="c7"/>
<rect x="120.9" y="1373.3" width="100.8" height="15.8" class="c3"/>
<rect x="221.7" y="1373.3" width="252.1" height="15.8" class="c2"/>
<rect x="473.8" y="1373.3" width="151.3" height="15.8" class="c3"/>
<rect x="625.1" y="1373.3" width="100.8" height="15.8" class="c4"/>
<rect x="725.9" y="1373.3" width="201.7" height="15.8" class="c5"/>
<rect x="927.6" y="1373.3" width="151.3" height="15.8" class="c6"/>
<rect x="120.9" y="1388.9" width="50.4" height="15.8" class="c3"/>
<rect x="171.3" y="1388.9" width="352.9" height="15.8" class="c2"/>
<rect x="524.3" y="1388.9" width="100.8" height="15.8" class="c3"/>
<rect x="625.1" y="1388.9" width="100.8" height="15.8" class="c4"/>
<rect x="725.9" y="1388.9" width="201.7" height="15.8" class="c5"/>
<rect x="927.6" y="1388.9" width="151.3" height="15.8" class="c6"/>
<rect x="120.9" y="1404.6" width="50.4" height="15.8" class="c3"/>
<rect x="171.3" y="1404.6" width="352.9" height="15.8" class="c2"/>
<rect x="524.3" y="1404.6" width="100.8" height="15.8" class="c3"/>
<rect x="625.1" y="1404.6" width="151.3" height="15.8" class="c4"/>
<rect x="776.4" y="1404.6" width="151.3" height="15.8" class="c5"/>
<rect x="927.6" y="1404.6" width="151.3" height="15.8" class="c6"/>
<rect x="120.9" y="1420.3" width="50.4" height="15.8" class="c3"/>
<rect x="171.3" y="1420.3" width="302.5" height="15.8" class="c2"/>
<rect x="473.8" y="1420.3" width="151.3" height="15.8" class="c3"/>
<rect x="625.1" y="1420.3" width="201.7" height="15.8" class="c4"/>
<rect x="826.8" y="1420.3" width="100.8" height="15.8" class="c5"/>
<rect x="927.6" y="1420.3" width="151.3" height="15.8" class="c6"/>
<rect x="120.9" y="1435.9" width="100.8" height="15.8" class="c3"/>
<rect x="221.7" y="1435.9" width="252.1" height="15.8" class="c2"/>
<rect x="473.8" y="1435.9" width="100.8" height="15.8" class="c3"/>
<rect x="574.7" y="1435.9" width="100.8" height="15.8" class="c4"/>
<rect x="675.5" y="1435.9" width="50.4" height="15.8" class="c3"/>
<rect x="725.9" y="1435.9" width="100.8" height="15.8" class="c4"/>
<rect x="826.8" y="1435.9" width="151.3" height="15.8" class="c5"/>
<rect x="978" y="1435.9" width="100.8" height="15.8" class="c6"/>
<rect x="120.9" y="1451.6" width="151.3" height="15.8" class="c3"/>
<rect x="272.2" y="1451.6" width="151.3" height="15.8" class="c2"/>
<rect x="423.4" y="1451.6" width="151.3" height="15.8" class="c3"/>
<rect x="574.7" y="1451.6" width="50.4" height="15.8" class="c4"/>
<rect x="625.1" y="1451.6" width="100.8" height="15.8" class="c3"/>
<rect x="725.9" y="1451.6" width="151.3" height="15.8" class="c4"/>
<rect x="877.2" y="1451.6" width="100.8" height="15.8" class="c5"/>
<rect x="978" y="1451.6" width="100.8" height="15.8" class="c6"/>
<rect x="120.9" y="1467.2" width="50.4" height="15.8" class="c4"/>
<rect x="171.3" y="1467.2" width="151.3" height="15.8" class="c3"/>
<rect x="322.6" y="1467.2" width="50.4" height="15.8" class="c2"/>
<rect x="373" y="1467.2" width="201.7" height="15.8" class="c3"/>
<rect x="574.7" y="1467.2" width="50.4" height="15.8" class="c4"/>
<rect x="625.1" y="1467.2" width="151.3" height="15.8" class="c3"/>
<rect x="776.4" y="1467.2" width="100.8" height="15.8" class="c4"/>
<rect x="877.2" y="1467.2" width="100.8" height="15.8" class="c5"/>
<rect x="978" y="1467.2" width="100.8" height="15.8" class="c6"/>
<rect x="120.9" y="1482.9" width="50.4" height="15.8" class="c4"/>
<rect x="171.3" y="1482.9" width="302.5" height="15.8" class="c3"/>
<rect x="473.8" y="1482.9" width="50.4" height="15.8" class="c2"/>
<rect x="524.3" y="1482.9" width="252.1" height="15.8" class="c3"/>
<rect x="776.4" y="1482.9" width="100.8" height="15.8" class="c4"/>
<rect x="877.2" y="1482.9" width="201.7" height="15.8" class="c5"/>
<rect x="120.9" y="1498.6" width="100.8" height="15.8" class="c4"/>
<rect x="221.7" y="1498.6" width="252.1" height="15.8" class="c3"/>
<rect x="473.8" y="1498.6" width="50.4" height="15.8" class="c2"/>
<rect x="524.3" y="1498.6" width="302.5" height="15.8" class="c3"/>
<rect x="826.8" y="1498.6" width="100.8" height="15.8" class="c4"/>
<rect x="927.6" y="1498.6" width="151.3" height="15.8" class="c5"/>
<rect x="120.9" y="1514.2" width="151.3" height="15.8" class="c4"/>
<rect x="272.2" y="1514.2" width="403.4" height="15.8" class="c3"/>
<rect x="675.5" y="1514.2" width="50.4" height="15.8" class="c2"/>
<rect x="725.9" y="1514.2" width="151.3" height="15.8" class="c3"/>
<rect x="877.2" y="1514.2" width="50.4" height="15.8" class="c4"/>
<rect x="927.6" y="1514.2" width="151.3" height="15.8" class="c5"/>
<rect x="120.9" y="1529.9" width="50.4" height="15.8" class="c5"/>
<rect x="171.3" y="1529.9" width="151.3" height="15.8" class="c4"/>
<rect x="322.6" y="1529.9" width="50.4" height="15.8" class="c3"/>
<rect x="373" y="1529.9" width="50.4" height="15.8" class="c4"/>
<rect x="423.4" y="1529.9" width="201.7" height="15.8" class="c3"/>
<rect x="625.1" y="1529.9" width="151.3" height="15.8" class="c2"/>
<rect x="776.4" y="1529.9" width="100.8" height="15.8" class="c3"/>
<rect x="877.2" y="1529.9" width="100.8" height="15.8" class="c4"/>
<rect x="978" y="1529.9" width="100.8" height="15.8" class="c5"/>
<rect x="120.9" y="1545.6" width="100.8" height="15.8" class="c5"/>
<rect x="221.7" y="1545.6" width="252.1" height="15.8" class="c4"/>
<rect x="473.8" y="1545.6" width="100.8" height="15.8" class="c3"/>
<rect x="574.7" y="1545.6" width="252.1" height="15.8" class="c2"/>
<rect x="826.8" y="1545.6" width="100.8" height="15.8" class="c3"/>
<rect x="927.6" y="1545.6" width="100.8" height="15.8" class="c4"/>
<rect x="1028.5" y="1545.6" width="50.4" height="15.8" class="c5"/>
<rect x="120.9" y="1561.2" width="151.3" height="15.8" class="c5"/>
<rect x="272.2" y="1561.2" width="252.1" height="15.8" class="c4"/>
<rect x="524.3" y="1561.2" width="100.8" height="15.8" class="c3"/>
<rect x="625.1" y="1561.2" width="151.3" height="15.8" class="c2"/>
<rect x="776.4" y="1561.2" width="100.8" height="15.8" class="c3"/>
<rect x="877.2" y="1561.2" width="100.8" height="15.8" class="c4"/>
<rect x="978" y="1561.2" width="100.8" height="15.8" class="c5"/>
<rect x="120.9" y="1576.9" width="201.7" height="15.8" class="c5"/>
<rect x="322.6" y="1576.9" width="201.7" height="15.8" class="c4"/>
<rect x="524.3" y="1576.9" width="100.8" height="15.8" class="c3"/>
<rect x="625.1" y="1576.9" width="100.8" height="15.8" class="c2"/>
<rect x="725.9" y="1576.9" width="151.3" height="15.8" class="c3"/>
<rect x="877.2" y="1576.9" width="100.8" height="15.8" class="c4"/>
<rect x="978" y="1576.9" width="100.8" height="15.8" class="c5"/>
<rect x="120.9" y="1592.5" width="151.3" height="15.8" class="c4"/>
<rect x="272.2" y="1592.5" width="50.4" height="15.8" class="c3"/>
<rect x="322.6" y="1592.5" width="151.3" height="15.8" class="c4"/>
<rect x="473.8" y="1592.5" width="352.9" height="15.8" class="c5"/>
<rect x="826.8" y="1592.5" width="100.8" height="15.8" class="c6"/>
<rect x="927.6" y="1592.5" width="151.3" height="15.8" class="c7"/>
<rect x="120.9" y="1608.2" width="100.8" height="15.8" class="c5"/>
<rect x="221.7" y="1608.2" width="151.3" height="15.8" class="c4"/>
<rect x="373" y="1608.2" width="352.9" height="15.8" class="c5"/>
<rect x="725.9" y="1608.2" width="201.7" height="15.8" class="c6"/>
<rect x="927.6" y="1608.2" width="151.3" height="15.8" class="c7"/>
<rect x="120.9" y="1623.9" width="151.3" height="15.8" class="c5"/>
<rect x="272.2" y="1623.9" width="100.8" height="15.8" class="c4"/>
<rect x="373" y="1623.9" width="201.7" height="15.8" class="c5"/>
<rect x="574.7" y="1623.9" width="100.8" height="15.8" class="c6"/>
<rect x="675.5" y="1623.9" width="50.4" height="15.8" class="c5"/>
<rect x="725.9" y="1623.9" width="151.3" height="15.8" class="c6"/>
<rect x="877.2" y="1623.9" width="201.7" height="15.8" class="c7"/>
<rect x="120.9" y="1639.5" width="403.4" height="15.8" class="c5"/>
<rect x="524.3" y="1639.5" width="302.5" height="15.8" class="c6"/>
<rect x="826.8" y="1639.5" width="151.3" height="15.8" class="c7"/>
<rect x="978" y="1639.5" width="100.8" height="15.8" class="c8"/>
<rect x="120.9" y="1655.2" width="50.4" height="15.8" class="c6"/>
<rect x="171.3" y="1655.2" width="302.5" height="15.8" class="c5"/>
<rect x="473.8" y="1655.2" width="302.5" height="15.8" class="c6"/>
<rect x="776.4" y="1655.2" width="151.3" height="15.8" class="c7"/>
<rect x="927.6" y="1655.2" width="151.3" height="15.8" class="c8"/>
<rect x="120.9" y="1670.8" width="100.8" height="15.8" class="c6"/>
<rect x="221.7" y="1670.8" width="201.7" height="15.8" class="c5"/>
<rect x="423.4" y="1670.8" width="151.3" height="15.8" class="c6"/>
<rect x="574.7" y="1670.8" width="100.8" height="15.8" class="c7"/>
<rect x="675.5" y="1670.8" width="50.4" height="15.8" class="c6"/>
<rect x="725.9" y="1670.8" width="201.7" height="15.8" class="c7"/>
<rect x="927.6" y="1670.8" width="151.3" height="15.8" class="c8"/>
<rect x="120.9" y="1686.5" width="403.4" height="15.8" class="c6"/>
<rect x="524.3" y="1686.5" width="352.9" height="15.8" class="c7"/>
<rect x="877.2" y="1686.5" width="201.7" height="15.8" class="c8"/>
<rect x="120.9" y="1702.2" width="50.4" height="15.8" class="c7"/>
<rect x="171.3" y="1702.2" width="302.5" height="15.8" class="c6"/>
<rect x="473.8" y="1702.2" width="403.4" height="15.8" class="c7"/>
<rect x="877.2" y="1702.2" width="100.8" height="15.8" class="c8"/>
<rect x="978" y="1702.2" width="100.8" height="15.8" class="c9"/>
<rect x="120.9" y="1717.8" width="50.4" height="15.8" class="c7"/>
<rect x="171.3" y="1717.8" width="252.1" height="15.8" class="c6"/>
<rect x="423.4" y="1717.8" width="403.4" height="15.8" class="c7"/>
<rect x="826.8" y="1717.8" width="151.3" height="15.8" class="c8"/>
<rect x="978" y="1717.8" width="100.8" height="15.8" class="c9"/>
<rect x="120.9" y="1733.5" width="100.8" height="15.8" class="c7"/>
<rect x="221.7" y="1733.5" width="151.3" height="15.8" class="c6"/>
<rect x="373" y="1733.5" width="403.4" height="15.8" class="c7"/>
<rect x="776.4" y="1733.5" width="151.3" height="15.8" class="c8"/>
<rect x="927.6" y="1733.5" width="151.3" height="15.8" class="c9"/>
<rect x="120.9" y="1749.2" width="453.8" height="15.8" class="c7"/>
<rect x="574.7" y="1749.2" width="100.8" height="15.8" class="c8"/>
<rect x="675.5" y="1749.2" width="50.4" height="15.8" class="c7"/>
<rect x="725.9" y="1749.2" width="201.7" height="15.8" class="c8"/>
<rect x="927.6" y="1749.2" width="151.3" height="15.8" class="c9"/>
<rect x="120.9" y="1764.8" width="403.4" height="15.8" class="c7"/>
<rect x="524.3" y="1764.8" width="352.9" height="15.8" class="c8"/>
<rect x="877.2" y="1764.8" width="201.7" height="15.8" class="c9"/>
<rect x="120.9" y="1780.5" width="50.4" height="15.8" class="c8"/>
<rect x="171.3" y="1780.5" width="302.5" height="15.8" class="c7"/>
<rect x="473.8" y="1780.5" width="403.4" height="15.8" class="c8"/>
<rect x="877.2" y="1780.5" width="151.3" height="15.8" class="c9"/>
<rect x="1028.5" y="1780.5" width="50.4" height="15.8" class="c10"/>
<rect x="120.9" y="1796.1" width="50.4" height="15.8" class="c8"/>
<rect x="171.3" y="1796.1" width="252.1" height="15.8" class="c7"/>
<rect x="423.4" y="1796.1" width="403.4" height="15.8" class="c8"/>
<rect x="826.8" y="1796.1" width="151.3" height="15.8" class="c9"/>
<rect x="978" y="1796.1" width="100.8" height="15.8" class="c10"/>
<g font-size="9" fill="#2a2a2a" text-anchor="middle">
<text x="146.4" y="54.7">8</text>
<text x="196.8" y="54.7">8</text>
<text x="247.3" y="54.7">8</text>
<text x="297.7" y="54.7">8</text>
<text x="348.1" y="54.7">8</text>
<text x="398.5" y="54.7">8</text>
<text x="448.9" y="54.7">8</text>
<text x="499.4" y="54.7">8</text>
<text x="549.8" y="54.7">8</text>
<text x="600.2" y="54.7">8</text>
<text x="650.6" y="54.7">9</text>
<text x="701" y="54.7">9</text>
<text x="751.4" y="54.7">9</text>
<text x="801.9" y="54.7">9</text>
<text x="852.3" y="54.7">10</text>
<text x="902.7" y="54.7">10</text>
<text x="953.1" y="54.7">10</text>
<text x="1003.5" y="54.7">11</text>
<text x="1054" y="54.7">11</text>
<text x="146.4" y="70.3">8</text>
<text x="196.8" y="70.3">8</text>
<text x="247.3" y="70.3">8</text>
<text x="297.7" y="70.3">8</text>
<text x="348.1" y="70.3">8</text>
<text x="398.5" y="70.3">8</text>
<text x="448.9" y="70.3">8</text>
<text x="499.4" y="70.3">8</text>
<text x="549.8" y="70.3">8</text>
<text x="600.2" y="70.3">8</text>
<text x="650.6" y="70.3">9</text>
<text x="701" y="70.3">9</text>
<text x="751.4" y="70.3">9</text>
<text x="801.9" y="70.3">9</text>
<text x="852.3" y="70.3">9</text>
<text x="902.7" y="70.3">10</text>
<text x="953.1" y="70.3">10</text>
<text x="1003.5" y="70.3">10</text>
<text x="1054" y="70.3">10</text>
<text x="146.4" y="86">8</text>
<text x="196.8" y="86">8</text>
<text x="247.3" y="86">7</text>
<text x="297.7" y="86">7</text>
<text x="348.1" y="86">7</text>
<text x="398.5" y="86">8</text>
<text x="448.9" y="86">8</text>
<text x="499.4" y="86">7</text>
<text x="549.8" y="86">8</text>
<text x="600.2" y="86">8</text>
<text x="650.6" y="86">8</text>
<text x="701" y="86">8</text>
<text x="751.4" y="86">9</text>
<text x="801.9" y="86">9</text>
<text x="852.3" y="86">9</text>
<text x="902.7" y="86">9</text>
<text x="953.1" y="86">10</text>
<text x="1003.5" y="86">10</text>
<text x="1054" y="86">10</text>
<text x="146.4" y="101.6">8</text>
<text x="196.8" y="101.6">7</text>
<text x="247.3" y="101.6">7</text>
<text x="297.7" y="101.6">7</text>
<text x="348.1" y="101.6">7</text>
<text x="398.5" y="101.6">7</text>
<text x="448.9" y="101.6">7</text>
<text x="499.4" y="101.6">7</text>
<text x="549.8" y="101.6">8</text>
<text x="600.2" y="101.6">8</text>
<text x="650.6" y="101.6">8</text>
<text x="701" y="101.6">8</text>
<text x="751.4" y="101.6">9</text>
<text x="801.9" y="101.6">9</text>
<text x="852.3" y="101.6">9</text>
<text x="902.7" y="101.6">9</text>
<text x="953.1" y="101.6">10</text>
<text x="1003.5" y="101.6">10</text>
<text x="1054" y="101.6">10</text>
<text x="146.4" y="117.3">7</text>
<text x="196.8" y="117.3">7</text>
<text x="247.3" y="117.3">7</text>
<text x="297.7" y="117.3">7</text>
<text x="348.1" y="117.3">7</text>
<text x="398.5" y="117.3">7</text>
<text x="448.9" y="117.3">7</text>
<text x="499.4" y="117.3">7</text>
<text x="549.8" y="117.3">7</text>
<text x="600.2" y="117.3">8</text>
<text x="650.6" y="117.3">8</text>
<text x="701" y="117.3">8</text>
<text x="751.4" y="117.3">8</text>
<text x="801.9" y="117.3">8</text>
<text x="852.3" y="117.3">9</text>
<text x="902.7" y="117.3">9</text>
<text x="953.1" y="117.3">9</text>
<text x="1003.5" y="117.3">10</text>
<text x="1054" y="117.3">10</text>
<text x="146.4" y="133">7</text>
<text x="196.8" y="133">7</text>
<text x="247.3" y="133">7</text>
<text x="297.7" y="133">7</text>
<text x="348.1" y="133">7</text>
<text x="398.5" y="133">7</text>
<text x="448.9" y="133">7</text>
<text x="499.4" y="133">7</text>
<text x="549.8" y="133">7</text>
<text x="600.2" y="133">7</text>
<text x="650.6" y="133">7</text>
<text x="701" y="133">8</text>
<text x="751.4" y="133">8</text>
<text x="801.9" y="133">8</text>
<text x="852.3" y="133">8</text>
<text x="902.7" y="133">9</text>
<text x="953.1" y="133">9</text>
<text x="1003.5" y="133">9</text>
<text x="1054" y="133">9</text>
<text x="146.4" y="148.6">7</text>
<text x="196.8" y="148.6">7</text>
<text x="247.3" y="148.6">6</text>
<text x="297.7" y="148.6">6</text>
<text x="348.1" y="148.6">6</text>
<text x="398.5" y="148.6">6</text>
<text x="448.9" y="148.6">6</text>
<text x="499.4" y="148.6">6</text>
<text x="549.8" y="148.6">7</text>
<text x="600.2" y="148.6">7</text>
<text x="650.6" y="148.6">7</text>
<text x="701" y="148.6">7</text>
<text x="751.4" y="148.6">8</text>
<text x="801.9" y="148.6">8</text>
<text x="852.3" y="148.6">8</text>
<text x="902.7" y="148.6">8</text>
<text x="953.1" y="148.6">9</text>
<text x="1003.5" y="148.6">9</text>
<text x="1054" y="148.6">9</text>
<text x="146.4" y="164.3">6</text>
<text x="196.8" y="164.3">6</text>
<text x="247.3" y="164.3">6</text>
<text x="297.7" y="164.3">6</text>
<text x="348.1" y="164.3">6</text>
<text x="398.5" y="164.3">6</text>
<text x="448.9" y="164.3">6</text>
<text x="499.4" y="164.3">6</text>
<text x="549.8" y="164.3">6</text>
<text x="600.2" y="164.3">6</text>
<text x="650.6" y="164.3">7</text>
<text x="701" y="164.3">7</text>
<text x="751.4" y="164.3">7</text>
<text x="801.9" y="164.3">7</text>
<text x="852.3" y="164.3">8</text>
<text x="902.7" y="164.3">8</text>
<text x="953.1" y="164.3">8</text>
<text x="1003.5" y="164.3">9</text>
<text x="1054" y="164.3">9</text>
<text x="146.4" y="180">6</text>
<text x="196.8" y="180">6</text>
<text x="247.3" y="180">5</text>
<text x="297.7" y="180">5</text>
<text x="348.1" y="180">5</text>
<text x="398.5" y="180">5</text>
<text x="448.9" y="180">6</text>
<text x="499.4" y="180">5</text>
<text x="549.8" y="180">6</text>
<text x="600.2" y="180">6</text>
<text x="650.6" y="180">6</text>
<text x="701" y="180">7</text>
<text x="751.4" y="180">7</text>
<text x="801.9" y="180">7</text>
<text x="852.3" y="180">7</text>
<text x="902.7" y="180">8</text>
<text x="953.1" y="180">8</text>
<text x="1003.5" y="180">8</text>
<text x="1054" y="180">8</text>
<text x="146.4" y="195.6">6</text>
<text x="196.8" y="195.6">6</text>
<text x="247.3" y="195.6">6</text>
<text x="297.7" y="195.6">5</text>
<text x="348.1" y="195.6">6</text>
<text x="398.5" y="195.6">6</text>
<text x="448.9" y="195.6">6</text>
<text x="499.4" y="195.6">6</text>
<text x="549.8" y="195.6">6</text>
<text x="600.2" y="195.6">6</text>
<text x="650.6" y="195.6">7</text>
<text x="701" y="195.6">7</text>
<text x="751.4" y="195.6">7</text>
<text x="801.9" y="195.6">7</text>
<text x="852.3" y="195.6">7</text>
<text x="902.7" y="195.6">8</text>
<text x="953.1" y="195.6">8</text>
<text x="1003.5" y="195.6">8</text>
<text x="1054" y="195.6">9</text>
<text x="146.4" y="211.3">6</text>
<text x="196.8" y="211.3">6</text>
<text x="247.3" y="211.3">6</text>
<text x="297.7" y="211.3">6</text>
<text x="348.1" y="211.3">6</text>
<text x="398.5" y="211.3">6</text>
<text x="448.9" y="211.3">6</text>
<text x="499.4" y="211.3">6</text>
<text x="549.8" y="211.3">6</text>
<text x="600.2" y="211.3">6</text>
<text x="650.6" y="211.3">7</text>
<text x="701" y="211.3">7</text>
<text x="751.4" y="211.3">7</text>
<text x="801.9" y="211.3">7</text>
<text x="852.3" y="211.3">8</text>
<text x="902.7" y="211.3">8</text>
<text x="953.1" y="211.3">8</text>
<text x="1003.5" y="211.3">9</text>
<text x="1054" y="211.3">9</text>
<text x="146.4" y="226.9">6</text>
<text x="196.8" y="226.9">6</text>
<text x="247.3" y="226.9">6</text>
<text x="297.7" y="226.9">6</text>
<text x="348.1" y="226.9">6</text>
<text x="398.5" y="226.9">6</text>
<text x="448.9" y="226.9">6</text>
<text x="499.4" y="226.9">6</text>
<text x="549.8" y="226.9">6</text>
<text x="600.2" y="226.9">6</text>
<text x="650.6" y="226.9">7</text>
<text x="701" y="226.9">7</text>
<text x="751.4" y="226.9">7</text>
<text x="801.9" y="226.9">7</text>
<text x="852.3" y="226.9">8</text>
<text x="902.7" y="226.9">8</text>
<text x="953.1" y="226.9">8</text>
<text x="1003.5" y="226.9">9</text>
<text x="1054" y="226.9">9</text>
<text x="146.4" y="242.6">6</text>
<text x="196.8" y="242.6">6</text>
<text x="247.3" y="242.6">6</text>
<text x="297.7" y="242.6">5</text>
<text x="348.1" y="242.6">6</text>
<text x="398.5" y="242.6">6</text>
<text x="448.9" y="242.6">6</text>
<text x="499.4" y="242.6">6</text>
<text x="549.8" y="242.6">6</text>
<text x="600.2" y="242.6">6</text>
<text x="650.6" y="242.6">7</text>
<text x="701" y="242.6">7</text>
<text x="751.4" y="242.6">7</text>
<text x="801.9" y="242.6">7</text>
<text x="852.3" y="242.6">7</text>
<text x="902.7" y="242.6">8</text>
<text x="953.1" y="242.6">8</text>
<text x="1003.5" y="242.6">8</text>
<text x="1054" y="242.6">8</text>
<text x="146.4" y="258.3">6</text>
<text x="196.8" y="258.3">5</text>
<text x="247.3" y="258.3">5</text>
<text x="297.7" y="258.3">5</text>
<text x="348.1" y="258.3">5</text>
<text x="398.5" y="258.3">5</text>
<text x="448.9" y="258.3">5</text>
<text x="499.4" y="258.3">5</text>
<text x="549.8" y="258.3">5</text>
<text x="600.2" y="258.3">6</text>
<text x="650.6" y="258.3">6</text>
<text x="701" y="258.3">6</text>
<text x="751.4" y="258.3">7</text>
<text x="801.9" y="258.3">7</text>
<text x="852.3" y="258.3">7</text>
<text x="902.7" y="258.3">7</text>
<text x="953.1" y="258.3">8</text>
<text x="1003.5" y="258.3">8</text>
<text x="1054" y="258.3">8</text>
<text x="146.4" y="273.9">6</text>
<text x="196.8" y="273.9">6</text>
<text x="247.3" y="273.9">5</text>
<text x="297.7" y="273.9">5</text>
<text x="348.1" y="273.9">5</text>
<text x="398.5" y="273.9">5</text>
<text x="448.9" y="273.9">5</text>
<text x="499.4" y="273.9">5</text>
<text x="549.8" y="273.9">5</text>
<text x="600.2" y="273.9">5</text>
<text x="650.6" y="273.9">6</text>
<text x="701" y="273.9">6</text>
<text x="751.4" y="273.9">6</text>
<text x="801.9" y="273.9">7</text>
<text x="852.3" y="273.9">7</text>
<text x="902.7" y="273.9">7</text>
<text x="953.1" y="273.9">7</text>
<text x="1003.5" y="273.9">8</text>
<text x="1054" y="273.9">8</text>
<text x="146.4" y="289.6">6</text>
<text x="196.8" y="289.6">6</text>
<text x="247.3" y="289.6">5</text>
<text x="297.7" y="289.6">5</text>
<text x="348.1" y="289.6">5</text>
<text x="398.5" y="289.6">5</text>
<text x="448.9" y="289.6">5</text>
<text x="499.4" y="289.6">4</text>
<text x="549.8" y="289.6">5</text>
<text x="600.2" y="289.6">5</text>
<text x="650.6" y="289.6">6</text>
<text x="701" y="289.6">6</text>
<text x="751.4" y="289.6">6</text>
<text x="801.9" y="289.6">6</text>
<text x="852.3" y="289.6">6</text>
<text x="902.7" y="289.6">7</text>
<text x="953.1" y="289.6">7</text>
<text x="1003.5" y="289.6">8</text>
<text x="1054" y="289.6">8</text>
<text x="146.4" y="305.3">6</text>
<text x="196.8" y="305.3">6</text>
<text x="247.3" y="305.3">5</text>
<text x="297.7" y="305.3">5</text>
<text x="348.1" y="305.3">5</text>
<text x="398.5" y="305.3">5</text>
<text x="448.9" y="305.3">5</text>
<text x="499.4" y="305.3">4</text>
<text x="549.8" y="305.3">5</text>
<text x="600.2" y="305.3">5</text>
<text x="650.6" y="305.3">5</text>
<text x="701" y="305.3">6</text>
<text x="751.4" y="305.3">6</text>
<text x="801.9" y="305.3">6</text>
<text x="852.3" y="305.3">6</text>
<text x="902.7" y="305.3">7</text>
<text x="953.1" y="305.3">7</text>
<text x="1003.5" y="305.3">7</text>
<text x="1054" y="305.3">8</text>
<text x="146.4" y="320.9">6</text>
<text x="196.8" y="320.9">5</text>
<text x="247.3" y="320.9">5</text>
<text x="297.7" y="320.9">5</text>
<text x="348.1" y="320.9">5</text>
<text x="398.5" y="320.9">5</text>
<text x="448.9" y="320.9">4</text>
<text x="499.4" y="320.9">4</text>
<text x="549.8" y="320.9">5</text>
<text x="600.2" y="320.9">5</text>
<text x="650.6" y="320.9">5</text>
<text x="701" y="320.9">5</text>
<text x="751.4" y="320.9">6</text>
<text x="801.9" y="320.9">6</text>
<text x="852.3" y="320.9">6</text>
<text x="902.7" y="320.9">7</text>
<text x="953.1" y="320.9">7</text>
<text x="1003.5" y="320.9">7</text>
<text x="1054" y="320.9">7</text>
<text x="146.4" y="336.6">5</text>
<text x="196.8" y="336.6">5</text>
<text x="247.3" y="336.6">5</text>
<text x="297.7" y="336.6">5</text>
<text x="348.1" y="336.6">5</text>
<text x="398.5" y="336.6">4</text>
<text x="448.9" y="336.6">4</text>
<text x="499.4" y="336.6">4</text>
<text x="549.8" y="336.6">4</text>
<text x="600.2" y="336.6">5</text>
<text x="650.6" y="336.6">5</text>
<text x="701" y="336.6">5</text>
<text x="751.4" y="336.6">6</text>
<text x="801.9" y="336.6">6</text>
<text x="852.3" y="336.6">6</text>
<text x="902.7" y="336.6">7</text>
<text x="953.1" y="336.6">7</text>
<text x="1003.5" y="336.6">7</text>
<text x="1054" y="336.6">7</text>
<text x="146.4" y="352.2">5</text>
<text x="196.8" y="352.2">5</text>
<text x="247.3" y="352.2">5</text>
<text x="297.7" y="352.2">5</text>
<text x="348.1" y="352.2">4</text>
<text x="398.5" y="352.2">4</text>
<text x="448.9" y="352.2">4</text>
<text x="499.4" y="352.2">4</text>
<text x="549.8" y="352.2">4</text>
<text x="600.2" y="352.2">4</text>
<text x="650.6" y="352.2">5</text>
<text x="701" y="352.2">5</text>
<text x="751.4" y="352.2">5</text>
<text x="801.9" y="352.2">6</text>
<text x="852.3" y="352.2">6</text>
<text x="902.7" y="352.2">6</text>
<text x="953.1" y="352.2">7</text>
<text x="1003.5" y="352.2">7</text>
<text x="1054" y="352.2">7</text>
<text x="146.4" y="367.9">5</text>
<text x="196.8" y="367.9">5</text>
<text x="247.3" y="367.9">4</text>
<text x="297.7" y="367.9">4</text>
<text x="348.1" y="367.9">4</text>
<text x="398.5" y="367.9">4</text>
<text x="448.9" y="367.9">3</text>
<text x="499.4" y="367.9">3</text>
<text x="549.8" y="367.9">4</text>
<text x="600.2" y="367.9">4</text>
<text x="650.6" y="367.9">5</text>
<text x="701" y="367.9">5</text>
<text x="751.4" y="367.9">5</text>
<text x="801.9" y="367.9">5</text>
<text x="852.3" y="367.9">6</text>
<text x="902.7" y="367.9">6</text>
<text x="953.1" y="367.9">7</text>
<text x="1003.5" y="367.9">7</text>
<text x="1054" y="367.9">7</text>
<text x="146.4" y="383.6">5</text>
<text x="196.8" y="383.6">5</text>
<text x="247.3" y="383.6">4</text>
<text x="297.7" y="383.6">4</text>
<text x="348.1" y="383.6">4</text>
<text x="398.5" y="383.6">4</text>
<text x="448.9" y="383.6">3</text>
<text x="499.4" y="383.6">3</text>
<text x="549.8" y="383.6">3</text>
<text x="600.2" y="383.6">4</text>
<text x="650.6" y="383.6">4</text>
<text x="701" y="383.6">5</text>
<text x="751.4" y="383.6">5</text>
<text x="801.9" y="383.6">5</text>
<text x="852.3" y="383.6">5</text>
<text x="902.7" y="383.6">6</text>
<text x="953.1" y="383.6">6</text>
<text x="1003.5" y="383.6">7</text>
<text x="1054" y="383.6">7</text>
<text x="146.4" y="399.2">5</text>
<text x="196.8" y="399.2">4</text>
<text x="247.3" y="399.2">4</text>
<text x="297.7" y="399.2">4</text>
<text x="348.1" y="399.2">4</text>
<text x="398.5" y="399.2">3</text>
<text x="448.9" y="399.2">3</text>
<text x="499.4" y="399.2">3</text>
<text x="549.8" y="399.2">3</text>
<text x="600.2" y="399.2">4</text>
<text x="650.6" y="399.2">4</text>
<text x="701" y="399.2">4</text>
<text x="751.4" y="399.2">5</text>
<text x="801.9" y="399.2">5</text>
<text x="852.3" y="399.2">5</text>
<text x="902.7" y="399.2">6</text>
<text x="953.1" y="399.2">6</text>
<text x="1003.5" y="399.2">7</text>
<text x="1054" y="399.2">7</text>
<text x="146.4" y="414.9">4</text>
<text x="196.8" y="414.9">4</text>
<text x="247.3" y="414.9">3</text>
<text x="297.7" y="414.9">3</text>
<text x="348.1" y="414.9">3</text>
<text x="398.5" y="414.9">3</text>
<text x="448.9" y="414.9">3</text>
<text x="499.4" y="414.9">2</text>
<text x="549.8" y="414.9">3</text>
<text x="600.2" y="414.9">3</text>
<text x="650.6" y="414.9">4</text>
<text x="701" y="414.9">4</text>
<text x="751.4" y="414.9">5</text>
<text x="801.9" y="414.9">5</text>
<text x="852.3" y="414.9">5</text>
<text x="902.7" y="414.9">5</text>
<text x="953.1" y="414.9">6</text>
<text x="1003.5" y="414.9">6</text>
<text x="1054" y="414.9">6</text>
<text x="146.4" y="430.6">4</text>
<text x="196.8" y="430.6">4</text>
<text x="247.3" y="430.6">3</text>
<text x="297.7" y="430.6">3</text>
<text x="348.1" y="430.6">3</text>
<text x="398.5" y="430.6">3</text>
<text x="448.9" y="430.6">2</text>
<text x="499.4" y="430.6">2</text>
<text x="549.8" y="430.6">2</text>
<text x="600.2" y="430.6">3</text>
<text x="650.6" y="430.6">3</text>
<text x="701" y="430.6">4</text>
<text x="751.4" y="430.6">4</text>
<text x="801.9" y="430.6">4</text>
<text x="852.3" y="430.6">5</text>
<text x="902.7" y="430.6">5</text>
<text x="953.1" y="430.6">6</text>
<text x="1003.5" y="430.6">6</text>
<text x="1054" y="430.6">6</text>
<text x="146.4" y="446.2">3</text>
<text x="196.8" y="446.2">3</text>
<text x="247.3" y="446.2">3</text>
<text x="297.7" y="446.2">3</text>
<text x="348.1" y="446.2">2</text>
<text x="398.5" y="446.2">2</text>
<text x="448.9" y="446.2">2</text>
<text x="499.4" y="446.2">2</text>
<text x="549.8" y="446.2">2</text>
<text x="600.2" y="446.2">2</text>
<text x="650.6" y="446.2">3</text>
<text x="701" y="446.2">3</text>
<text x="751.4" y="446.2">4</text>
<text x="801.9" y="446.2">4</text>
<text x="852.3" y="446.2">4</text>
<text x="902.7" y="446.2">5</text>
<text x="953.1" y="446.2">5</text>
<text x="1003.5" y="446.2">6</text>
<text x="1054" y="446.2">6</text>
<text x="146.4" y="461.9">4</text>
<text x="196.8" y="461.9">4</text>
<text x="247.3" y="461.9">3</text>
<text x="297.7" y="461.9">3</text>
<text x="348.1" y="461.9">3</text>
<text x="398.5" y="461.9">3</text>
<text x="448.9" y="461.9">2</text>
<text x="499.4" y="461.9">2</text>
<text x="549.8" y="461.9">2</text>
<text x="600.2" y="461.9">3</text>
<text x="650.6" y="461.9">3</text>
<text x="701" y="461.9">3</text>
<text x="751.4" y="461.9">3</text>
<text x="801.9" y="461.9">4</text>
<text x="852.3" y="461.9">4</text>
<text x="902.7" y="461.9">5</text>
<text x="953.1" y="461.9">5</text>
<text x="1003.5" y="461.9">5</text>
<text x="1054" y="461.9">6</text>
<text x="146.4" y="477.5">4</text>
<text x="196.8" y="477.5">4</text>
<text x="247.3" y="477.5">3</text>
<text x="297.7" y="477.5">3</text>
<text x="348.1" y="477.5">3</text>
<text x="398.5" y="477.5">3</text>
<text x="448.9" y="477.5">3</text>
<text x="499.4" y="477.5">2</text>
<text x="549.8" y="477.5">3</text>
<text x="600.2" y="477.5">3</text>
<text x="650.6" y="477.5">3</text>
<text x="701" y="477.5">3</text>
<text x="751.4" y="477.5">3</text>
<text x="801.9" y="477.5">3</text>
<text x="852.3" y="477.5">4</text>
<text x="902.7" y="477.5">4</text>
<text x="953.1" y="477.5">5</text>
<text x="1003.5" y="477.5">5</text>
<text x="1054" y="477.5">5</text>
<text x="146.4" y="493.2">5</text>
<text x="196.8" y="493.2">4</text>
<text x="247.3" y="493.2">4</text>
<text x="297.7" y="493.2">4</text>
<text x="348.1" y="493.2">4</text>
<text x="398.5" y="493.2">4</text>
<text x="448.9" y="493.2">3</text>
<text x="499.4" y="493.2">3</text>
<text x="549.8" y="493.2">3</text>
<text x="600.2" y="493.2">4</text>
<text x="650.6" y="493.2">4</text>
<text x="701" y="493.2">3</text>
<text x="751.4" y="493.2">4</text>
<text x="801.9" y="493.2">4</text>
<text x="852.3" y="493.2">4</text>
<text x="902.7" y="493.2">5</text>
<text x="953.1" y="493.2">5</text>
<text x="1003.5" y="493.2">6</text>
<text x="1054" y="493.2">6</text>
<text x="146.4" y="508.9">5</text>
<text x="196.8" y="508.9">5</text>
<text x="247.3" y="508.9">5</text>
<text x="297.7" y="508.9">4</text>
<text x="348.1" y="508.9">4</text>
<text x="398.5" y="508.9">4</text>
<text x="448.9" y="508.9">4</text>
<text x="499.4" y="508.9">4</text>
<text x="549.8" y="508.9">4</text>
<text x="600.2" y="508.9">5</text>
<text x="650.6" y="508.9">4</text>
<text x="701" y="508.9">4</text>
<text x="751.4" y="508.9">5</text>
<text x="801.9" y="508.9">5</text>
<text x="852.3" y="508.9">5</text>
<text x="902.7" y="508.9">5</text>
<text x="953.1" y="508.9">6</text>
<text x="1003.5" y="508.9">6</text>
<text x="1054" y="508.9">6</text>
<text x="146.4" y="524.5">2</text>
<text x="196.8" y="524.5">2</text>
<text x="247.3" y="524.5">2</text>
<text x="297.7" y="524.5">2</text>
<text x="348.1" y="524.5">3</text>
<text x="398.5" y="524.5">3</text>
<text x="448.9" y="524.5">3</text>
<text x="499.4" y="524.5">3</text>
<text x="549.8" y="524.5">4</text>
<text x="600.2" y="524.5">4</text>
<text x="650.6" y="524.5">5</text>
<text x="701" y="524.5">5</text>
<text x="751.4" y="524.5">5</text>
<text x="801.9" y="524.5">5</text>
<text x="852.3" y="524.5">6</text>
<text x="902.7" y="524.5">6</text>
<text x="953.1" y="524.5">7</text>
<text x="1003.5" y="524.5">7</text>
<text x="1054" y="524.5">7</text>
<text x="146.4" y="540.2">2</text>
<text x="196.8" y="540.2">2</text>
<text x="247.3" y="540.2">2</text>
<text x="297.7" y="540.2">2</text>
<text x="348.1" y="540.2">2</text>
<text x="398.5" y="540.2">3</text>
<text x="448.9" y="540.2">3</text>
<text x="499.4" y="540.2">3</text>
<text x="549.8" y="540.2">4</text>
<text x="600.2" y="540.2">4</text>
<text x="650.6" y="540.2">5</text>
<text x="701" y="540.2">5</text>
<text x="751.4" y="540.2">5</text>
<text x="801.9" y="540.2">5</text>
<text x="852.3" y="540.2">5</text>
<text x="902.7" y="540.2">6</text>
<text x="953.1" y="540.2">6</text>
<text x="1003.5" y="540.2">7</text>
<text x="1054" y="540.2">7</text>
<text x="146.4" y="555.8">2</text>
<text x="196.8" y="555.8">2</text>
<text x="247.3" y="555.8">2</text>
<text x="297.7" y="555.8">2</text>
<text x="348.1" y="555.8">2</text>
<text x="398.5" y="555.8">2</text>
<text x="448.9" y="555.8">2</text>
<text x="499.4" y="555.8">3</text>
<text x="549.8" y="555.8">3</text>
<text x="600.2" y="555.8">4</text>
<text x="650.6" y="555.8">4</text>
<text x="701" y="555.8">4</text>
<text x="751.4" y="555.8">5</text>
<text x="801.9" y="555.8">5</text>
<text x="852.3" y="555.8">5</text>
<text x="902.7" y="555.8">6</text>
<text x="953.1" y="555.8">6</text>
<text x="1003.5" y="555.8">6</text>
<text x="1054" y="555.8">7</text>
<text x="146.4" y="571.5">2</text>
<text x="196.8" y="571.5">2</text>
<text x="247.3" y="571.5">2</text>
<text x="297.7" y="571.5">2</text>
<text x="348.1" y="571.5">2</text>
<text x="398.5" y="571.5">2</text>
<text x="448.9" y="571.5">2</text>
<text x="499.4" y="571.5">3</text>
<text x="549.8" y="571.5">3</text>
<text x="600.2" y="571.5">3</text>
<text x="650.6" y="571.5">4</text>
<text x="701" y="571.5">4</text>
<text x="751.4" y="571.5">5</text>
<text x="801.9" y="571.5">5</text>
<text x="852.3" y="571.5">5</text>
<text x="902.7" y="571.5">5</text>
<text x="953.1" y="571.5">6</text>
<text x="1003.5" y="571.5">6</text>
<text x="1054" y="571.5">6</text>
<text x="146.4" y="587.2">3</text>
<text x="196.8" y="587.2">2</text>
<text x="247.3" y="587.2">2</text>
<text x="297.7" y="587.2">2</text>
<text x="348.1" y="587.2">2</text>
<text x="398.5" y="587.2">2</text>
<text x="448.9" y="587.2">2</text>
<text x="499.4" y="587.2">2</text>
<text x="549.8" y="587.2">3</text>
<text x="600.2" y="587.2">3</text>
<text x="650.6" y="587.2">4</text>
<text x="701" y="587.2">4</text>
<text x="751.4" y="587.2">4</text>
<text x="801.9" y="587.2">5</text>
<text x="852.3" y="587.2">5</text>
<text x="902.7" y="587.2">5</text>
<text x="953.1" y="587.2">6</text>
<text x="1003.5" y="587.2">6</text>
<text x="1054" y="587.2">6</text>
<text x="146.4" y="602.8">3</text>
<text x="196.8" y="602.8">3</text>
<text x="247.3" y="602.8">2</text>
<text x="297.7" y="602.8">2</text>
<text x="348.1" y="602.8">2</text>
<text x="398.5" y="602.8">2</text>
<text x="448.9" y="602.8">2</text>
<text x="499.4" y="602.8">2</text>
<text x="549.8" y="602.8">3</text>
<text x="600.2" y="602.8">3</text>
<text x="650.6" y="602.8">4</text>
<text x="701" y="602.8">4</text>
<text x="751.4" y="602.8">4</text>
<text x="801.9" y="602.8">5</text>
<text x="852.3" y="602.8">5</text>
<text x="902.7" y="602.8">5</text>
<text x="953.1" y="602.8">6</text>
<text x="1003.5" y="602.8">6</text>
<text x="1054" y="602.8">6</text>
<text x="146.4" y="618.5">3</text>
<text x="196.8" y="618.5">3</text>
<text x="247.3" y="618.5">2</text>
<text x="297.7" y="618.5">2</text>
<text x="348.1" y="618.5">2</text>
<text x="398.5" y="618.5">2</text>
<text x="448.9" y="618.5">2</text>
<text x="499.4" y="618.5">2</text>
<text x="549.8" y="618.5">2</text>
<text x="600.2" y="618.5">3</text>
<text x="650.6" y="618.5">3</text>
<text x="701" y="618.5">4</text>
<text x="751.4" y="618.5">4</text>
<text x="801.9" y="618.5">4</text>
<text x="852.3" y="618.5">5</text>
<text x="902.7" y="618.5">5</text>
<text x="953.1" y="618.5">6</text>
<text x="1003.5" y="618.5">6</text>
<text x="1054" y="618.5">6</text>
<text x="146.4" y="634.2">3</text>
<text x="196.8" y="634.2">3</text>
<text x="247.3" y="634.2">3</text>
<text x="297.7" y="634.2">3</text>
<text x="348.1" y="634.2">2</text>
<text x="398.5" y="634.2">2</text>
<text x="448.9" y="634.2">2</text>
<text x="499.4" y="634.2">2</text>
<text x="549.8" y="634.2">2</text>
<text x="600.2" y="634.2">2</text>
<text x="650.6" y="634.2">3</text>
<text x="701" y="634.2">3</text>
<text x="751.4" y="634.2">4</text>
<text x="801.9" y="634.2">4</text>
<text x="852.3" y="634.2">4</text>
<text x="902.7" y="634.2">5</text>
<text x="953.1" y="634.2">5</text>
<text x="1003.5" y="634.2">6</text>
<text x="1054" y="634.2">6</text>
<text x="146.4" y="649.8">4</text>
<text x="196.8" y="649.8">4</text>
<text x="247.3" y="649.8">3</text>
<text x="297.7" y="649.8">3</text>
<text x="348.1" y="649.8">3</text>
<text x="398.5" y="649.8">3</text>
<text x="448.9" y="649.8">2</text>
<text x="499.4" y="649.8">2</text>
<text x="549.8" y="649.8">2</text>
<text x="600.2" y="649.8">2</text>
<text x="650.6" y="649.8">3</text>
<text x="701" y="649.8">3</text>
<text x="751.4" y="649.8">3</text>
<text x="801.9" y="649.8">4</text>
<text x="852.3" y="649.8">4</text>
<text x="902.7" y="649.8">5</text>
<text x="953.1" y="649.8">5</text>
<text x="1003.5" y="649.8">5</text>
<text x="1054" y="649.8">5</text>
<text x="146.4" y="665.5">4</text>
<text x="196.8" y="665.5">4</text>
<text x="247.3" y="665.5">4</text>
<text x="297.7" y="665.5">3</text>
<text x="348.1" y="665.5">3</text>
<text x="398.5" y="665.5">3</text>
<text x="448.9" y="665.5">3</text>
<text x="499.4" y="665.5">2</text>
<text x="549.8" y="665.5">2</text>
<text x="600.2" y="665.5">2</text>
<text x="650.6" y="665.5">2</text>
<text x="701" y="665.5">2</text>
<text x="751.4" y="665.5">3</text>
<text x="801.9" y="665.5">3</text>
<text x="852.3" y="665.5">3</text>
<text x="902.7" y="665.5">4</text>
<text x="953.1" y="665.5">5</text>
<text x="1003.5" y="665.5">5</text>
<text x="1054" y="665.5">5</text>
<text x="146.4" y="681.1">5</text>
<text x="196.8" y="681.1">5</text>
<text x="247.3" y="681.1">4</text>
<text x="297.7" y="681.1">4</text>
<text x="348.1" y="681.1">4</text>
<text x="398.5" y="681.1">4</text>
<text x="448.9" y="681.1">3</text>
<text x="499.4" y="681.1">3</text>
<text x="549.8" y="681.1">3</text>
<text x="600.2" y="681.1">2</text>
<text x="650.6" y="681.1">2</text>
<text x="701" y="681.1">2</text>
<text x="751.4" y="681.1">2</text>
<text x="801.9" y="681.1">3</text>
<text x="852.3" y="681.1">3</text>
<text x="902.7" y="681.1">4</text>
<text x="953.1" y="681.1">4</text>
<text x="1003.5" y="681.1">5</text>
<text x="1054" y="681.1">5</text>
<text x="146.4" y="696.8">5</text>
<text x="196.8" y="696.8">5</text>
<text x="247.3" y="696.8">4</text>
<text x="297.7" y="696.8">4</text>
<text x="348.1" y="696.8">4</text>
<text x="398.5" y="696.8">4</text>
<text x="448.9" y="696.8">4</text>
<text x="499.4" y="696.8">3</text>
<text x="549.8" y="696.8">3</text>
<text x="600.2" y="696.8">2</text>
<text x="650.6" y="696.8">2</text>
<text x="701" y="696.8">2</text>
<text x="751.4" y="696.8">2</text>
<text x="801.9" y="696.8">2</text>
<text x="852.3" y="696.8">3</text>
<text x="902.7" y="696.8">3</text>
<text x="953.1" y="696.8">4</text>
<text x="1003.5" y="696.8">4</text>
<text x="1054" y="696.8">5</text>
<text x="146.4" y="712.5">5</text>
<text x="196.8" y="712.5">5</text>
<text x="247.3" y="712.5">5</text>
<text x="297.7" y="712.5">5</text>
<text x="348.1" y="712.5">4</text>
<text x="398.5" y="712.5">4</text>
<text x="448.9" y="712.5">4</text>
<text x="499.4" y="712.5">4</text>
<text x="549.8" y="712.5">3</text>
<text x="600.2" y="712.5">3</text>
<text x="650.6" y="712.5">2</text>
<text x="701" y="712.5">2</text>
<text x="751.4" y="712.5">2</text>
<text x="801.9" y="712.5">2</text>
<text x="852.3" y="712.5">2</text>
<text x="902.7" y="712.5">3</text>
<text x="953.1" y="712.5">3</text>
<text x="1003.5" y="712.5">4</text>
<text x="1054" y="712.5">4</text>
<text x="146.4" y="728.1">5</text>
<text x="196.8" y="728.1">5</text>
<text x="247.3" y="728.1">5</text>
<text x="297.7" y="728.1">5</text>
<text x="348.1" y="728.1">5</text>
<text x="398.5" y="728.1">5</text>
<text x="448.9" y="728.1">4</text>
<text x="499.4" y="728.1">4</text>
<text x="549.8" y="728.1">4</text>
<text x="600.2" y="728.1">3</text>
<text x="650.6" y="728.1">3</text>
<text x="701" y="728.1">2</text>
<text x="751.4" y="728.1">2</text>
<text x="801.9" y="728.1">2</text>
<text x="852.3" y="728.1">2</text>
<text x="902.7" y="728.1">2</text>
<text x="953.1" y="728.1">3</text>
<text x="1003.5" y="728.1">4</text>
<text x="1054" y="728.1">4</text>
<text x="146.4" y="743.8">6</text>
<text x="196.8" y="743.8">5</text>
<text x="247.3" y="743.8">5</text>
<text x="297.7" y="743.8">5</text>
<text x="348.1" y="743.8">5</text>
<text x="398.5" y="743.8">5</text>
<text x="448.9" y="743.8">5</text>
<text x="499.4" y="743.8">4</text>
<text x="549.8" y="743.8">4</text>
<text x="600.2" y="743.8">3</text>
<text x="650.6" y="743.8">3</text>
<text x="701" y="743.8">3</text>
<text x="751.4" y="743.8">2</text>
<text x="801.9" y="743.8">2</text>
<text x="852.3" y="743.8">2</text>
<text x="902.7" y="743.8">2</text>
<text x="953.1" y="743.8">3</text>
<text x="1003.5" y="743.8">3</text>
<text x="1054" y="743.8">3</text>
<text x="146.4" y="759.5">6</text>
<text x="196.8" y="759.5">6</text>
<text x="247.3" y="759.5">6</text>
<text x="297.7" y="759.5">5</text>
<text x="348.1" y="759.5">5</text>
<text x="398.5" y="759.5">5</text>
<text x="448.9" y="759.5">5</text>
<text x="499.4" y="759.5">5</text>
<text x="549.8" y="759.5">5</text>
<text x="600.2" y="759.5">4</text>
<text x="650.6" y="759.5">4</text>
<text x="701" y="759.5">3</text>
<text x="751.4" y="759.5">3</text>
<text x="801.9" y="759.5">2</text>
<text x="852.3" y="759.5">2</text>
<text x="902.7" y="759.5">2</text>
<text x="953.1" y="759.5">2</text>
<text x="1003.5" y="759.5">3</text>
<text x="1054" y="759.5">3</text>
<text x="146.4" y="775.1">7</text>
<text x="196.8" y="775.1">6</text>
<text x="247.3" y="775.1">6</text>
<text x="297.7" y="775.1">6</text>
<text x="348.1" y="775.1">6</text>
<text x="398.5" y="775.1">6</text>
<text x="448.9" y="775.1">6</text>
<text x="499.4" y="775.1">5</text>
<text x="549.8" y="775.1">5</text>
<text x="600.2" y="775.1">5</text>
<text x="650.6" y="775.1">4</text>
<text x="701" y="775.1">4</text>
<text x="751.4" y="775.1">3</text>
<text x="801.9" y="775.1">3</text>
<text x="852.3" y="775.1">3</text>
<text x="902.7" y="775.1">2</text>
<text x="953.1" y="775.1">2</text>
<text x="1003.5" y="775.1">2</text>
<text x="1054" y="775.1">2</text>
<text x="146.4" y="790.8">7</text>
<text x="196.8" y="790.8">7</text>
<text x="247.3" y="790.8">6</text>
<text x="297.7" y="790.8">6</text>
<text x="348.1" y="790.8">6</text>
<text x="398.5" y="790.8">6</text>
<text x="448.9" y="790.8">6</text>
<text x="499.4" y="790.8">6</text>
<text x="549.8" y="790.8">5</text>
<text x="600.2" y="790.8">5</text>
<text x="650.6" y="790.8">5</text>
<text x="701" y="790.8">4</text>
<text x="751.4" y="790.8">4</text>
<text x="801.9" y="790.8">4</text>
<text x="852.3" y="790.8">3</text>
<text x="902.7" y="790.8">3</text>
<text x="953.1" y="790.8">2</text>
<text x="1003.5" y="790.8">2</text>
<text x="1054" y="790.8">2</text>
<text x="146.4" y="806.4">7</text>
<text x="196.8" y="806.4">7</text>
<text x="247.3" y="806.4">7</text>
<text x="297.7" y="806.4">6</text>
<text x="348.1" y="806.4">6</text>
<text x="398.5" y="806.4">6</text>
<text x="448.9" y="806.4">6</text>
<text x="499.4" y="806.4">6</text>
<text x="549.8" y="806.4">5</text>
<text x="600.2" y="806.4">5</text>
<text x="650.6" y="806.4">5</text>
<text x="701" y="806.4">5</text>
<text x="751.4" y="806.4">4</text>
<text x="801.9" y="806.4">4</text>
<text x="852.3" y="806.4">3</text>
<text x="902.7" y="806.4">3</text>
<text x="953.1" y="806.4">2</text>
<text x="1003.5" y="806.4">2</text>
<text x="1054" y="806.4">2</text>
<text x="146.4" y="822.1">7</text>
<text x="196.8" y="822.1">6</text>
<text x="247.3" y="822.1">6</text>
<text x="297.7" y="822.1">6</text>
<text x="348.1" y="822.1">6</text>
<text x="398.5" y="822.1">6</text>
<text x="448.9" y="822.1">6</text>
<text x="499.4" y="822.1">6</text>
<text x="549.8" y="822.1">6</text>
<text x="600.2" y="822.1">7</text>
<text x="650.6" y="822.1">7</text>
<text x="701" y="822.1">7</text>
<text x="751.4" y="822.1">7</text>
<text x="801.9" y="822.1">8</text>
<text x="852.3" y="822.1">8</text>
<text x="902.7" y="822.1">8</text>
<text x="953.1" y="822.1">9</text>
<text x="1003.5" y="822.1">9</text>
<text x="1054" y="822.1">9</text>
<text x="146.4" y="837.8">6</text>
<text x="196.8" y="837.8">6</text>
<text x="247.3" y="837.8">6</text>
<text x="297.7" y="837.8">6</text>
<text x="348.1" y="837.8">6</text>
<text x="398.5" y="837.8">6</text>
<text x="448.9" y="837.8">6</text>
<text x="499.4" y="837.8">6</text>
<text x="549.8" y="837.8">6</text>
<text x="600.2" y="837.8">7</text>
<text x="650.6" y="837.8">7</text>
<text x="701" y="837.8">7</text>
<text x="751.4" y="837.8">7</text>
<text x="801.9" y="837.8">7</text>
<text x="852.3" y="837.8">8</text>
<text x="902.7" y="837.8">8</text>
<text x="953.1" y="837.8">8</text>
<text x="1003.5" y="837.8">9</text>
<text x="1054" y="837.8">9</text>
<text x="146.4" y="853.4">6</text>
<text x="196.8" y="853.4">6</text>
<text x="247.3" y="853.4">6</text>
<text x="297.7" y="853.4">6</text>
<text x="348.1" y="853.4">6</text>
<text x="398.5" y="853.4">6</text>
<text x="448.9" y="853.4">6</text>
<text x="499.4" y="853.4">6</text>
<text x="549.8" y="853.4">6</text>
<text x="600.2" y="853.4">6</text>
<text x="650.6" y="853.4">7</text>
<text x="701" y="853.4">7</text>
<text x="751.4" y="853.4">7</text>
<text x="801.9" y="853.4">7</text>
<text x="852.3" y="853.4">7</text>
<text x="902.7" y="853.4">8</text>
<text x="953.1" y="853.4">8</text>
<text x="1003.5" y="853.4">9</text>
<text x="1054" y="853.4">9</text>
<text x="146.4" y="869.1">6</text>
<text x="196.8" y="869.1">6</text>
<text x="247.3" y="869.1">5</text>
<text x="297.7" y="869.1">5</text>
<text x="348.1" y="869.1">5</text>
<text x="398.5" y="869.1">5</text>
<text x="448.9" y="869.1">6</text>
<text x="499.4" y="869.1">5</text>
<text x="549.8" y="869.1">6</text>
<text x="600.2" y="869.1">6</text>
<text x="650.6" y="869.1">6</text>
<text x="701" y="869.1">7</text>
<text x="751.4" y="869.1">7</text>
<text x="801.9" y="869.1">7</text>
<text x="852.3" y="869.1">7</text>
<text x="902.7" y="869.1">8</text>
<text x="953.1" y="869.1">8</text>
<text x="1003.5" y="869.1">8</text>
<text x="1054" y="869.1">8</text>
<text x="146.4" y="884.7">6</text>
<text x="196.8" y="884.7">5</text>
<text x="247.3" y="884.7">5</text>
<text x="297.7" y="884.7">5</text>
<text x="348.1" y="884.7">5</text>
<text x="398.5" y="884.7">5</text>
<text x="448.9" y="884.7">5</text>
<text x="499.4" y="884.7">5</text>
<text x="549.8" y="884.7">6</text>
<text x="600.2" y="884.7">6</text>
<text x="650.6" y="884.7">6</text>
<text x="701" y="884.7">6</text>
<text x="751.4" y="884.7">7</text>
<text x="801.9" y="884.7">7</text>
<text x="852.3" y="884.7">7</text>
<text x="902.7" y="884.7">7</text>
<text x="953.1" y="884.7">8</text>
<text x="1003.5" y="884.7">8</text>
<text x="1054" y="884.7">8</text>
<text x="146.4" y="900.4">6</text>
<text x="196.8" y="900.4">5</text>
<text x="247.3" y="900.4">5</text>
<text x="297.7" y="900.4">5</text>
<text x="348.1" y="900.4">5</text>
<text x="398.5" y="900.4">5</text>
<text x="448.9" y="900.4">5</text>
<text x="499.4" y="900.4">5</text>
<text x="549.8" y="900.4">5</text>
<text x="600.2" y="900.4">6</text>
<text x="650.6" y="900.4">6</text>
<text x="701" y="900.4">6</text>
<text x="751.4" y="900.4">7</text>
<text x="801.9" y="900.4">7</text>
<text x="852.3" y="900.4">7</text>
<text x="902.7" y="900.4">7</text>
<text x="953.1" y="900.4">8</text>
<text x="1003.5" y="900.4">8</text>
<text x="1054" y="900.4">8</text>
<text x="146.4" y="916.1">5</text>
<text x="196.8" y="916.1">5</text>
<text x="247.3" y="916.1">5</text>
<text x="297.7" y="916.1">5</text>
<text x="348.1" y="916.1">5</text>
<text x="398.5" y="916.1">5</text>
<text x="448.9" y="916.1">5</text>
<text x="499.4" y="916.1">5</text>
<text x="549.8" y="916.1">6</text>
<text x="600.2" y="916.1">6</text>
<text x="650.6" y="916.1">6</text>
<text x="701" y="916.1">6</text>
<text x="751.4" y="916.1">7</text>
<text x="801.9" y="916.1">7</text>
<text x="852.3" y="916.1">7</text>
<text x="902.7" y="916.1">7</text>
<text x="953.1" y="916.1">8</text>
<text x="1003.5" y="916.1">8</text>
<text x="1054" y="916.1">8</text>
<text x="146.4" y="931.7">5</text>
<text x="196.8" y="931.7">5</text>
<text x="247.3" y="931.7">4</text>
<text x="297.7" y="931.7">4</text>
<text x="348.1" y="931.7">4</text>
<text x="398.5" y="931.7">5</text>
<text x="448.9" y="931.7">5</text>
<text x="499.4" y="931.7">5</text>
<text x="549.8" y="931.7">5</text>
<text x="600.2" y="931.7">6</text>
<text x="650.6" y="931.7">6</text>
<text x="701" y="931.7">6</text>
<text x="751.4" y="931.7">6</text>
<text x="801.9" y="931.7">7</text>
<text x="852.3" y="931.7">7</text>
<text x="902.7" y="931.7">7</text>
<text x="953.1" y="931.7">8</text>
<text x="1003.5" y="931.7">8</text>
<text x="1054" y="931.7">8</text>
<text x="146.4" y="947.4">5</text>
<text x="196.8" y="947.4">5</text>
<text x="247.3" y="947.4">4</text>
<text x="297.7" y="947.4">4</text>
<text x="348.1" y="947.4">4</text>
<text x="398.5" y="947.4">4</text>
<text x="448.9" y="947.4">5</text>
<text x="499.4" y="947.4">5</text>
<text x="549.8" y="947.4">5</text>
<text x="600.2" y="947.4">6</text>
<text x="650.6" y="947.4">6</text>
<text x="701" y="947.4">6</text>
<text x="751.4" y="947.4">6</text>
<text x="801.9" y="947.4">7</text>
<text x="852.3" y="947.4">7</text>
<text x="902.7" y="947.4">7</text>
<text x="953.1" y="947.4">7</text>
<text x="1003.5" y="947.4">8</text>
<text x="1054" y="947.4">8</text>
<text x="146.4" y="963.1">5</text>
<text x="196.8" y="963.1">5</text>
<text x="247.3" y="963.1">4</text>
<text x="297.7" y="963.1">4</text>
<text x="348.1" y="963.1">4</text>
<text x="398.5" y="963.1">4</text>
<text x="448.9" y="963.1">5</text>
<text x="499.4" y="963.1">5</text>
<text x="549.8" y="963.1">5</text>
<text x="600.2" y="963.1">5</text>
<text x="650.6" y="963.1">6</text>
<text x="701" y="963.1">6</text>
<text x="751.4" y="963.1">6</text>
<text x="801.9" y="963.1">6</text>
<text x="852.3" y="963.1">7</text>
<text x="902.7" y="963.1">7</text>
<text x="953.1" y="963.1">7</text>
<text x="1003.5" y="963.1">8</text>
<text x="1054" y="963.1">8</text>
<text x="146.4" y="978.7">5</text>
<text x="196.8" y="978.7">4</text>
<text x="247.3" y="978.7">4</text>
<text x="297.7" y="978.7">4</text>
<text x="348.1" y="978.7">4</text>
<text x="398.5" y="978.7">4</text>
<text x="448.9" y="978.7">4</text>
<text x="499.4" y="978.7">5</text>
<text x="549.8" y="978.7">5</text>
<text x="600.2" y="978.7">5</text>
<text x="650.6" y="978.7">6</text>
<text x="701" y="978.7">6</text>
<text x="751.4" y="978.7">6</text>
<text x="801.9" y="978.7">6</text>
<text x="852.3" y="978.7">6</text>
<text x="902.7" y="978.7">7</text>
<text x="953.1" y="978.7">7</text>
<text x="1003.5" y="978.7">7</text>
<text x="1054" y="978.7">8</text>
<text x="146.4" y="994.4">4</text>
<text x="196.8" y="994.4">4</text>
<text x="247.3" y="994.4">4</text>
<text x="297.7" y="994.4">3</text>
<text x="348.1" y="994.4">4</text>
<text x="398.5" y="994.4">4</text>
<text x="448.9" y="994.4">4</text>
<text x="499.4" y="994.4">4</text>
<text x="549.8" y="994.4">5</text>
<text x="600.2" y="994.4">5</text>
<text x="650.6" y="994.4">5</text>
<text x="701" y="994.4">5</text>
<text x="751.4" y="994.4">6</text>
<text x="801.9" y="994.4">6</text>
<text x="852.3" y="994.4">6</text>
<text x="902.7" y="994.4">7</text>
<text x="953.1" y="994.4">7</text>
<text x="1003.5" y="994.4">7</text>
<text x="1054" y="994.4">7</text>
<text x="146.4" y="1010">4</text>
<text x="196.8" y="1010">4</text>
<text x="247.3" y="1010">3</text>
<text x="297.7" y="1010">3</text>
<text x="348.1" y="1010">3</text>
<text x="398.5" y="1010">4</text>
<text x="448.9" y="1010">4</text>
<text x="499.4" y="1010">4</text>
<text x="549.8" y="1010">5</text>
<text x="600.2" y="1010">5</text>
<text x="650.6" y="1010">5</text>
<text x="701" y="1010">5</text>
<text x="751.4" y="1010">6</text>
<text x="801.9" y="1010">6</text>
<text x="852.3" y="1010">6</text>
<text x="902.7" y="1010">7</text>
<text x="953.1" y="1010">7</text>
<text x="1003.5" y="1010">7</text>
<text x="1054" y="1010">7</text>
<text x="146.4" y="1025.7">4</text>
<text x="196.8" y="1025.7">4</text>
<text x="247.3" y="1025.7">3</text>
<text x="297.7" y="1025.7">3</text>
<text x="348.1" y="1025.7">3</text>
<text x="398.5" y="1025.7">3</text>
<text x="448.9" y="1025.7">4</text>
<text x="499.4" y="1025.7">4</text>
<text x="549.8" y="1025.7">4</text>
<text x="600.2" y="1025.7">5</text>
<text x="650.6" y="1025.7">5</text>
<text x="701" y="1025.7">5</text>
<text x="751.4" y="1025.7">6</text>
<text x="801.9" y="1025.7">6</text>
<text x="852.3" y="1025.7">6</text>
<text x="902.7" y="1025.7">6</text>
<text x="953.1" y="1025.7">7</text>
<text x="1003.5" y="1025.7">7</text>
<text x="1054" y="1025.7">7</text>
<text x="146.4" y="1041.4">4</text>
<text x="196.8" y="1041.4">3</text>
<text x="247.3" y="1041.4">3</text>
<text x="297.7" y="1041.4">3</text>
<text x="348.1" y="1041.4">3</text>
<text x="398.5" y="1041.4">3</text>
<text x="448.9" y="1041.4">3</text>
<text x="499.4" y="1041.4">4</text>
<text x="549.8" y="1041.4">4</text>
<text x="600.2" y="1041.4">5</text>
<text x="650.6" y="1041.4">5</text>
<text x="701" y="1041.4">5</text>
<text x="751.4" y="1041.4">5</text>
<text x="801.9" y="1041.4">6</text>
<text x="852.3" y="1041.4">6</text>
<text x="902.7" y="1041.4">6</text>
<text x="953.1" y="1041.4">7</text>
<text x="1003.5" y="1041.4">7</text>
<text x="1054" y="1041.4">7</text>
<text x="146.4" y="1057">4</text>
<text x="196.8" y="1057">3</text>
<text x="247.3" y="1057">3</text>
<text x="297.7" y="1057">3</text>
<text x="348.1" y="1057">3</text>
<text x="398.5" y="1057">3</text>
<text x="448.9" y="1057">3</text>
<text x="499.4" y="1057">4</text>
<text x="549.8" y="1057">4</text>
<text x="600.2" y="1057">4</text>
<text x="650.6" y="1057">5</text>
<text x="701" y="1057">5</text>
<text x="751.4" y="1057">5</text>
<text x="801.9" y="1057">5</text>
<text x="852.3" y="1057">6</text>
<text x="902.7" y="1057">6</text>
<text x="953.1" y="1057">7</text>
<text x="1003.5" y="1057">7</text>
<text x="1054" y="1057">7</text>
<text x="146.4" y="1072.7">3</text>
<text x="196.8" y="1072.7">3</text>
<text x="247.3" y="1072.7">2</text>
<text x="297.7" y="1072.7">2</text>
<text x="348.1" y="1072.7">2</text>
<text x="398.5" y="1072.7">3</text>
<text x="448.9" y="1072.7">3</text>
<text x="499.4" y="1072.7">3</text>
<text x="549.8" y="1072.7">4</text>
<text x="600.2" y="1072.7">4</text>
<text x="650.6" y="1072.7">5</text>
<text x="701" y="1072.7">5</text>
<text x="751.4" y="1072.7">5</text>
<text x="801.9" y="1072.7">5</text>
<text x="852.3" y="1072.7">5</text>
<text x="902.7" y="1072.7">6</text>
<text x="953.1" y="1072.7">6</text>
<text x="1003.5" y="1072.7">7</text>
<text x="1054" y="1072.7">7</text>
<text x="146.4" y="1088.4">3</text>
<text x="196.8" y="1088.4">3</text>
<text x="247.3" y="1088.4">2</text>
<text x="297.7" y="1088.4">2</text>
<text x="348.1" y="1088.4">2</text>
<text x="398.5" y="1088.4">2</text>
<text x="448.9" y="1088.4">3</text>
<text x="499.4" y="1088.4">3</text>
<text x="549.8" y="1088.4">3</text>
<text x="600.2" y="1088.4">4</text>
<text x="650.6" y="1088.4">5</text>
<text x="701" y="1088.4">5</text>
<text x="751.4" y="1088.4">5</text>
<text x="801.9" y="1088.4">5</text>
<text x="852.3" y="1088.4">5</text>
<text x="902.7" y="1088.4">6</text>
<text x="953.1" y="1088.4">6</text>
<text x="1003.5" y="1088.4">7</text>
<text x="1054" y="1088.4">7</text>
<text x="146.4" y="1104">3</text>
<text x="196.8" y="1104">2</text>
<text x="247.3" y="1104">2</text>
<text x="297.7" y="1104">2</text>
<text x="348.1" y="1104">2</text>
<text x="398.5" y="1104">2</text>
<text x="448.9" y="1104">3</text>
<text x="499.4" y="1104">3</text>
<text x="549.8" y="1104">3</text>
<text x="600.2" y="1104">4</text>
<text x="650.6" y="1104">4</text>
<text x="701" y="1104">4</text>
<text x="751.4" y="1104">5</text>
<text x="801.9" y="1104">5</text>
<text x="852.3" y="1104">5</text>
<text x="902.7" y="1104">6</text>
<text x="953.1" y="1104">6</text>
<text x="1003.5" y="1104">7</text>
<text x="1054" y="1104">7</text>
<text x="146.4" y="1119.7">3</text>
<text x="196.8" y="1119.7">2</text>
<text x="247.3" y="1119.7">2</text>
<text x="297.7" y="1119.7">2</text>
<text x="348.1" y="1119.7">2</text>
<text x="398.5" y="1119.7">2</text>
<text x="448.9" y="1119.7">2</text>
<text x="499.4" y="1119.7">3</text>
<text x="549.8" y="1119.7">3</text>
<text x="600.2" y="1119.7">4</text>
<text x="650.6" y="1119.7">4</text>
<text x="701" y="1119.7">4</text>
<text x="751.4" y="1119.7">5</text>
<text x="801.9" y="1119.7">5</text>
<text x="852.3" y="1119.7">5</text>
<text x="902.7" y="1119.7">6</text>
<text x="953.1" y="1119.7">6</text>
<text x="1003.5" y="1119.7">6</text>
<text x="1054" y="1119.7">7</text>
<text x="146.4" y="1135.3">2</text>
<text x="196.8" y="1135.3">2</text>
<text x="247.3" y="1135.3">2</text>
<text x="297.7" y="1135.3">2</text>
<text x="348.1" y="1135.3">2</text>
<text x="398.5" y="1135.3">2</text>
<text x="448.9" y="1135.3">2</text>
<text x="499.4" y="1135.3">3</text>
<text x="549.8" y="1135.3">3</text>
<text x="600.2" y="1135.3">3</text>
<text x="650.6" y="1135.3">4</text>
<text x="701" y="1135.3">4</text>
<text x="751.4" y="1135.3">5</text>
<text x="801.9" y="1135.3">5</text>
<text x="852.3" y="1135.3">5</text>
<text x="902.7" y="1135.3">5</text>
<text x="953.1" y="1135.3">6</text>
<text x="1003.5" y="1135.3">6</text>
<text x="1054" y="1135.3">6</text>
<text x="146.4" y="1151">3</text>
<text x="196.8" y="1151">2</text>
<text x="247.3" y="1151">2</text>
<text x="297.7" y="1151">2</text>
<text x="348.1" y="1151">2</text>
<text x="398.5" y="1151">2</text>
<text x="448.9" y="1151">2</text>
<text x="499.4" y="1151">3</text>
<text x="549.8" y="1151">3</text>
<text x="600.2" y="1151">4</text>
<text x="650.6" y="1151">4</text>
<text x="701" y="1151">4</text>
<text x="751.4" y="1151">5</text>
<text x="801.9" y="1151">5</text>
<text x="852.3" y="1151">5</text>
<text x="902.7" y="1151">6</text>
<text x="953.1" y="1151">6</text>
<text x="1003.5" y="1151">6</text>
<text x="1054" y="1151">7</text>
<text x="146.4" y="1166.7">3</text>
<text x="196.8" y="1166.7">3</text>
<text x="247.3" y="1166.7">2</text>
<text x="297.7" y="1166.7">2</text>
<text x="348.1" y="1166.7">2</text>
<text x="398.5" y="1166.7">2</text>
<text x="448.9" y="1166.7">3</text>
<text x="499.4" y="1166.7">3</text>
<text x="549.8" y="1166.7">4</text>
<text x="600.2" y="1166.7">4</text>
<text x="650.6" y="1166.7">5</text>
<text x="701" y="1166.7">5</text>
<text x="751.4" y="1166.7">5</text>
<text x="801.9" y="1166.7">5</text>
<text x="852.3" y="1166.7">5</text>
<text x="902.7" y="1166.7">6</text>
<text x="953.1" y="1166.7">6</text>
<text x="1003.5" y="1166.7">7</text>
<text x="1054" y="1166.7">7</text>
<text x="146.4" y="1182.3">3</text>
<text x="196.8" y="1182.3">3</text>
<text x="247.3" y="1182.3">2</text>
<text x="297.7" y="1182.3">2</text>
<text x="348.1" y="1182.3">2</text>
<text x="398.5" y="1182.3">3</text>
<text x="448.9" y="1182.3">3</text>
<text x="499.4" y="1182.3">3</text>
<text x="549.8" y="1182.3">4</text>
<text x="600.2" y="1182.3">4</text>
<text x="650.6" y="1182.3">5</text>
<text x="701" y="1182.3">5</text>
<text x="751.4" y="1182.3">5</text>
<text x="801.9" y="1182.3">5</text>
<text x="852.3" y="1182.3">5</text>
<text x="902.7" y="1182.3">6</text>
<text x="953.1" y="1182.3">6</text>
<text x="1003.5" y="1182.3">7</text>
<text x="1054" y="1182.3">7</text>
<text x="146.4" y="1198">3</text>
<text x="196.8" y="1198">3</text>
<text x="247.3" y="1198">3</text>
<text x="297.7" y="1198">3</text>
<text x="348.1" y="1198">3</text>
<text x="398.5" y="1198">3</text>
<text x="448.9" y="1198">3</text>
<text x="499.4" y="1198">4</text>
<text x="549.8" y="1198">4</text>
<text x="600.2" y="1198">4</text>
<text x="650.6" y="1198">5</text>
<text x="701" y="1198">5</text>
<text x="751.4" y="1198">5</text>
<text x="801.9" y="1198">5</text>
<text x="852.3" y="1198">6</text>
<text x="902.7" y="1198">6</text>
<text x="953.1" y="1198">7</text>
<text x="1003.5" y="1198">7</text>
<text x="1054" y="1198">7</text>
<text x="146.4" y="1213.7">4</text>
<text x="196.8" y="1213.7">3</text>
<text x="247.3" y="1213.7">3</text>
<text x="297.7" y="1213.7">3</text>
<text x="348.1" y="1213.7">3</text>
<text x="398.5" y="1213.7">3</text>
<text x="448.9" y="1213.7">3</text>
<text x="499.4" y="1213.7">4</text>
<text x="549.8" y="1213.7">4</text>
<text x="600.2" y="1213.7">5</text>
<text x="650.6" y="1213.7">5</text>
<text x="701" y="1213.7">5</text>
<text x="751.4" y="1213.7">5</text>
<text x="801.9" y="1213.7">6</text>
<text x="852.3" y="1213.7">6</text>
<text x="902.7" y="1213.7">6</text>
<text x="953.1" y="1213.7">7</text>
<text x="1003.5" y="1213.7">7</text>
<text x="1054" y="1213.7">7</text>
<text x="146.4" y="1229.3">4</text>
<text x="196.8" y="1229.3">4</text>
<text x="247.3" y="1229.3">3</text>
<text x="297.7" y="1229.3">3</text>
<text x="348.1" y="1229.3">3</text>
<text x="398.5" y="1229.3">3</text>
<text x="448.9" y="1229.3">4</text>
<text x="499.4" y="1229.3">4</text>
<text x="549.8" y="1229.3">4</text>
<text x="600.2" y="1229.3">5</text>
<text x="650.6" y="1229.3">5</text>
<text x="701" y="1229.3">5</text>
<text x="751.4" y="1229.3">6</text>
<text x="801.9" y="1229.3">6</text>
<text x="852.3" y="1229.3">6</text>
<text x="902.7" y="1229.3">6</text>
<text x="953.1" y="1229.3">7</text>
<text x="1003.5" y="1229.3">7</text>
<text x="1054" y="1229.3">7</text>
<text x="146.4" y="1245">4</text>
<text x="196.8" y="1245">4</text>
<text x="247.3" y="1245">3</text>
<text x="297.7" y="1245">3</text>
<text x="348.1" y="1245">3</text>
<text x="398.5" y="1245">4</text>
<text x="448.9" y="1245">4</text>
<text x="499.4" y="1245">4</text>
<text x="549.8" y="1245">5</text>
<text x="600.2" y="1245">5</text>
<text x="650.6" y="1245">5</text>
<text x="701" y="1245">5</text>
<text x="751.4" y="1245">5</text>
<text x="801.9" y="1245">6</text>
<text x="852.3" y="1245">6</text>
<text x="902.7" y="1245">6</text>
<text x="953.1" y="1245">7</text>
<text x="1003.5" y="1245">7</text>
<text x="1054" y="1245">7</text>
<text x="146.4" y="1260.6">4</text>
<text x="196.8" y="1260.6">4</text>
<text x="247.3" y="1260.6">4</text>
<text x="297.7" y="1260.6">3</text>
<text x="348.1" y="1260.6">4</text>
<text x="398.5" y="1260.6">4</text>
<text x="448.9" y="1260.6">4</text>
<text x="499.4" y="1260.6">5</text>
<text x="549.8" y="1260.6">5</text>
<text x="600.2" y="1260.6">5</text>
<text x="650.6" y="1260.6">5</text>
<text x="701" y="1260.6">5</text>
<text x="751.4" y="1260.6">5</text>
<text x="801.9" y="1260.6">5</text>
<text x="852.3" y="1260.6">6</text>
<text x="902.7" y="1260.6">6</text>
<text x="953.1" y="1260.6">7</text>
<text x="1003.5" y="1260.6">7</text>
<text x="1054" y="1260.6">7</text>
<text x="146.4" y="1276.3">5</text>
<text x="196.8" y="1276.3">4</text>
<text x="247.3" y="1276.3">4</text>
<text x="297.7" y="1276.3">4</text>
<text x="348.1" y="1276.3">4</text>
<text x="398.5" y="1276.3">4</text>
<text x="448.9" y="1276.3">5</text>
<text x="499.4" y="1276.3">4</text>
<text x="549.8" y="1276.3">5</text>
<text x="600.2" y="1276.3">5</text>
<text x="650.6" y="1276.3">5</text>
<text x="701" y="1276.3">5</text>
<text x="751.4" y="1276.3">5</text>
<text x="801.9" y="1276.3">5</text>
<text x="852.3" y="1276.3">5</text>
<text x="902.7" y="1276.3">6</text>
<text x="953.1" y="1276.3">6</text>
<text x="1003.5" y="1276.3">7</text>
<text x="1054" y="1276.3">7</text>
<text x="146.4" y="1292">5</text>
<text x="196.8" y="1292">5</text>
<text x="247.3" y="1292">4</text>
<text x="297.7" y="1292">4</text>
<text x="348.1" y="1292">4</text>
<text x="398.5" y="1292">4</text>
<text x="448.9" y="1292">5</text>
<text x="499.4" y="1292">4</text>
<text x="549.8" y="1292">5</text>
<text x="600.2" y="1292">5</text>
<text x="650.6" y="1292">5</text>
<text x="701" y="1292">5</text>
<text x="751.4" y="1292">5</text>
<text x="801.9" y="1292">5</text>
<text x="852.3" y="1292">5</text>
<text x="902.7" y="1292">6</text>
<text x="953.1" y="1292">6</text>
<text x="1003.5" y="1292">7</text>
<text x="1054" y="1292">7</text>
<text x="146.4" y="1307.6">5</text>
<text x="196.8" y="1307.6">5</text>
<text x="247.3" y="1307.6">5</text>
<text x="297.7" y="1307.6">4</text>
<text x="348.1" y="1307.6">4</text>
<text x="398.5" y="1307.6">5</text>
<text x="448.9" y="1307.6">4</text>
<text x="499.4" y="1307.6">4</text>
<text x="549.8" y="1307.6">4</text>
<text x="600.2" y="1307.6">5</text>
<text x="650.6" y="1307.6">4</text>
<text x="701" y="1307.6">4</text>
<text x="751.4" y="1307.6">5</text>
<text x="801.9" y="1307.6">5</text>
<text x="852.3" y="1307.6">5</text>
<text x="902.7" y="1307.6">6</text>
<text x="953.1" y="1307.6">6</text>
<text x="1003.5" y="1307.6">6</text>
<text x="1054" y="1307.6">6</text>
<text x="146.4" y="1323.3">5</text>
<text x="196.8" y="1323.3">5</text>
<text x="247.3" y="1323.3">5</text>
<text x="297.7" y="1323.3">4</text>
<text x="348.1" y="1323.3">4</text>
<text x="398.5" y="1323.3">4</text>
<text x="448.9" y="1323.3">4</text>
<text x="499.4" y="1323.3">4</text>
<text x="549.8" y="1323.3">4</text>
<text x="600.2" y="1323.3">5</text>
<text x="650.6" y="1323.3">4</text>
<text x="701" y="1323.3">4</text>
<text x="751.4" y="1323.3">5</text>
<text x="801.9" y="1323.3">5</text>
<text x="852.3" y="1323.3">5</text>
<text x="902.7" y="1323.3">5</text>
<text x="953.1" y="1323.3">6</text>
<text x="1003.5" y="1323.3">6</text>
<text x="1054" y="1323.3">6</text>
<text x="146.4" y="1338.9">4</text>
<text x="196.8" y="1338.9">3</text>
<text x="247.3" y="1338.9">3</text>
<text x="297.7" y="1338.9">3</text>
<text x="348.1" y="1338.9">2</text>
<text x="398.5" y="1338.9">3</text>
<text x="448.9" y="1338.9">3</text>
<text x="499.4" y="1338.9">3</text>
<text x="549.8" y="1338.9">4</text>
<text x="600.2" y="1338.9">4</text>
<text x="650.6" y="1338.9">5</text>
<text x="701" y="1338.9">5</text>
<text x="751.4" y="1338.9">5</text>
<text x="801.9" y="1338.9">5</text>
<text x="852.3" y="1338.9">6</text>
<text x="902.7" y="1338.9">6</text>
<text x="953.1" y="1338.9">7</text>
<text x="1003.5" y="1338.9">7</text>
<text x="1054" y="1338.9">7</text>
<text x="146.4" y="1354.6">3</text>
<text x="196.8" y="1354.6">3</text>
<text x="247.3" y="1354.6">3</text>
<text x="297.7" y="1354.6">2</text>
<text x="348.1" y="1354.6">2</text>
<text x="398.5" y="1354.6">2</text>
<text x="448.9" y="1354.6">3</text>
<text x="499.4" y="1354.6">3</text>
<text x="549.8" y="1354.6">3</text>
<text x="600.2" y="1354.6">4</text>
<text x="650.6" y="1354.6">5</text>
<text x="701" y="1354.6">5</text>
<text x="751.4" y="1354.6">5</text>
<text x="801.9" y="1354.6">5</text>
<text x="852.3" y="1354.6">5</text>
<text x="902.7" y="1354.6">6</text>
<text x="953.1" y="1354.6">6</text>
<text x="1003.5" y="1354.6">7</text>
<text x="1054" y="1354.6">7</text>
<text x="146.4" y="1370.3">3</text>
<text x="196.8" y="1370.3">3</text>
<text x="247.3" y="1370.3">2</text>
<text x="297.7" y="1370.3">2</text>
<text x="348.1" y="1370.3">2</text>
<text x="398.5" y="1370.3">2</text>
<text x="448.9" y="1370.3">3</text>
<text x="499.4" y="1370.3">3</text>
<text x="549.8" y="1370.3">3</text>
<text x="600.2" y="1370.3">4</text>
<text x="650.6" y="1370.3">4</text>
<text x="701" y="1370.3">4</text>
<text x="751.4" y="1370.3">5</text>
<text x="801.9" y="1370.3">5</text>
<text x="852.3" y="1370.3">5</text>
<text x="902.7" y="1370.3">6</text>
<text x="953.1" y="1370.3">6</text>
<text x="1003.5" y="1370.3">7</text>
<text x="1054" y="1370.3">7</text>
<text x="146.4" y="1385.9">3</text>
<text x="196.8" y="1385.9">3</text>
<text x="247.3" y="1385.9">2</text>
<text x="297.7" y="1385.9">2</text>
<text x="348.1" y="1385.9">2</text>
<text x="398.5" y="1385.9">2</text>
<text x="448.9" y="1385.9">2</text>
<text x="499.4" y="1385.9">3</text>
<text x="549.8" y="1385.9">3</text>
<text x="600.2" y="1385.9">3</text>
<text x="650.6" y="1385.9">4</text>
<text x="701" y="1385.9">4</text>
<text x="751.4" y="1385.9">5</text>
<text x="801.9" y="1385.9">5</text>
<text x="852.3" y="1385.9">5</text>
<text x="902.7" y="1385.9">5</text>
<text x="953.1" y="1385.9">6</text>
<text x="1003.5" y="1385.9">6</text>
<text x="1054" y="1385.9">6</text>
<text x="146.4" y="1401.6">3</text>
<text x="196.8" y="1401.6">2</text>
<text x="247.3" y="1401.6">2</text>
<text x="297.7" y="1401.6">2</text>
<text x="348.1" y="1401.6">2</text>
<text x="398.5" y="1401.6">2</text>
<text x="448.9" y="1401.6">2</text>
<text x="499.4" y="1401.6">2</text>
<text x="549.8" y="1401.6">3</text>
<text x="600.2" y="1401.6">3</text>
<text x="650.6" y="1401.6">4</text>
<text x="701" y="1401.6">4</text>
<text x="751.4" y="1401.6">5</text>
<text x="801.9" y="1401.6">5</text>
<text x="852.3" y="1401.6">5</text>
<text x="902.7" y="1401.6">5</text>
<text x="953.1" y="1401.6">6</text>
<text x="1003.5" y="1401.6">6</text>
<text x="1054" y="1401.6">6</text>
<text x="146.4" y="1417.3">3</text>
<text x="196.8" y="1417.3">2</text>
<text x="247.3" y="1417.3">2</text>
<text x="297.7" y="1417.3">2</text>
<text x="348.1" y="1417.3">2</text>
<text x="398.5" y="1417.3">2</text>
<text x="448.9" y="1417.3">2</text>
<text x="499.4" y="1417.3">2</text>
<text x="549.8" y="1417.3">3</text>
<text x="600.2" y="1417.3">3</text>
<text x="650.6" y="1417.3">4</text>
<text x="701" y="1417.3">4</text>
<text x="751.4" y="1417.3">4</text>
<text x="801.9" y="1417.3">5</text>
<text x="852.3" y="1417.3">5</text>
<text x="902.7" y="1417.3">5</text>
<text x="953.1" y="1417.3">6</text>
<text x="1003.5" y="1417.3">6</text>
<text x="1054" y="1417.3">6</text>
<text x="146.4" y="1432.9">3</text>
<text x="196.8" y="1432.9">2</text>
<text x="247.3" y="1432.9">2</text>
<text x="297.7" y="1432.9">2</text>
<text x="348.1" y="1432.9">2</text>
<text x="398.5" y="1432.9">2</text>
<text x="448.9" y="1432.9">2</text>
<text x="499.4" y="1432.9">3</text>
<text x="549.8" y="1432.9">3</text>
<text x="600.2" y="1432.9">3</text>
<text x="650.6" y="1432.9">4</text>
<text x="701" y="1432.9">4</text>
<text x="751.4" y="1432.9">4</text>
<text x="801.9" y="1432.9">4</text>
<text x="852.3" y="1432.9">5</text>
<text x="902.7" y="1432.9">5</text>
<text x="953.1" y="1432.9">6</text>
<text x="1003.5" y="1432.9">6</text>
<text x="1054" y="1432.9">6</text>
<text x="146.4" y="1448.6">3</text>
<text x="196.8" y="1448.6">3</text>
<text x="247.3" y="1448.6">2</text>
<text x="297.7" y="1448.6">2</text>
<text x="348.1" y="1448.6">2</text>
<text x="398.5" y="1448.6">2</text>
<text x="448.9" y="1448.6">2</text>
<text x="499.4" y="1448.6">3</text>
<text x="549.8" y="1448.6">3</text>
<text x="600.2" y="1448.6">4</text>
<text x="650.6" y="1448.6">4</text>
<text x="701" y="1448.6">3</text>
<text x="751.4" y="1448.6">4</text>
<text x="801.9" y="1448.6">4</text>
<text x="852.3" y="1448.6">5</text>
<text x="902.7" y="1448.6">5</text>
<text x="953.1" y="1448.6">5</text>
<text x="1003.5" y="1448.6">6</text>
<text x="1054" y="1448.6">6</text>
<text x="146.4" y="1464.2">3</text>
<text x="196.8" y="1464.2">3</text>
<text x="247.3" y="1464.2">3</text>
<text x="297.7" y="1464.2">2</text>
<text x="348.1" y="1464.2">2</text>
<text x="398.5" y="1464.2">2</text>
<text x="448.9" y="1464.2">3</text>
<text x="499.4" y="1464.2">3</text>
<text x="549.8" y="1464.2">3</text>
<text x="600.2" y="1464.2">4</text>
<text x="650.6" y="1464.2">3</text>
<text x="701" y="1464.2">3</text>
<text x="751.4" y="1464.2">4</text>
<text x="801.9" y="1464.2">4</text>
<text x="852.3" y="1464.2">4</text>
<text x="902.7" y="1464.2">5</text>
<text x="953.1" y="1464.2">5</text>
<text x="1003.5" y="1464.2">6</text>
<text x="1054" y="1464.2">6</text>
<text x="146.4" y="1479.9">4</text>
<text x="196.8" y="1479.9">3</text>
<text x="247.3" y="1479.9">3</text>
<text x="297.7" y="1479.9">3</text>
<text x="348.1" y="1479.9">2</text>
<text x="398.5" y="1479.9">3</text>
<text x="448.9" y="1479.9">3</text>
<text x="499.4" y="1479.9">3</text>
<text x="549.8" y="1479.9">3</text>
<text x="600.2" y="1479.9">4</text>
<text x="650.6" y="1479.9">3</text>
<text x="701" y="1479.9">3</text>
<text x="751.4" y="1479.9">3</text>
<text x="801.9" y="1479.9">4</text>
<text x="852.3" y="1479.9">4</text>
<text x="902.7" y="1479.9">5</text>
<text x="953.1" y="1479.9">5</text>
<text x="1003.5" y="1479.9">6</text>
<text x="1054" y="1479.9">6</text>
<text x="146.4" y="1495.6">4</text>
<text x="196.8" y="1495.6">3</text>
<text x="247.3" y="1495.6">3</text>
<text x="297.7" y="1495.6">3</text>
<text x="348.1" y="1495.6">3</text>
<text x="398.5" y="1495.6">3</text>
<text x="448.9" y="1495.6">3</text>
<text x="499.4" y="1495.6">2</text>
<text x="549.8" y="1495.6">3</text>
<text x="600.2" y="1495.6">3</text>
<text x="650.6" y="1495.6">3</text>
<text x="701" y="1495.6">3</text>
<text x="751.4" y="1495.6">3</text>
<text x="801.9" y="1495.6">4</text>
<text x="852.3" y="1495.6">4</text>
<text x="902.7" y="1495.6">5</text>
<text x="953.1" y="1495.6">5</text>
<text x="1003.5" y="1495.6">5</text>
<text x="1054" y="1495.6">5</text>
<text x="146.4" y="1511.2">4</text>
<text x="196.8" y="1511.2">4</text>
<text x="247.3" y="1511.2">3</text>
<text x="297.7" y="1511.2">3</text>
<text x="348.1" y="1511.2">3</text>
<text x="398.5" y="1511.2">3</text>
<text x="448.9" y="1511.2">3</text>
<text x="499.4" y="1511.2">2</text>
<text x="549.8" y="1511.2">3</text>
<text x="600.2" y="1511.2">3</text>
<text x="650.6" y="1511.2">3</text>
<text x="701" y="1511.2">3</text>
<text x="751.4" y="1511.2">3</text>
<text x="801.9" y="1511.2">3</text>
<text x="852.3" y="1511.2">4</text>
<text x="902.7" y="1511.2">4</text>
<text x="953.1" y="1511.2">5</text>
<text x="1003.5" y="1511.2">5</text>
<text x="1054" y="1511.2">5</text>
<text x="146.4" y="1526.9">4</text>
<text x="196.8" y="1526.9">4</text>
<text x="247.3" y="1526.9">4</text>
<text x="297.7" y="1526.9">3</text>
<text x="348.1" y="1526.9">3</text>
<text x="398.5" y="1526.9">3</text>
<text x="448.9" y="1526.9">3</text>
<text x="499.4" y="1526.9">3</text>
<text x="549.8" y="1526.9">3</text>
<text x="600.2" y="1526.9">3</text>
<text x="650.6" y="1526.9">3</text>
<text x="701" y="1526.9">2</text>
<text x="751.4" y="1526.9">3</text>
<text x="801.9" y="1526.9">3</text>
<text x="852.3" y="1526.9">3</text>
<text x="902.7" y="1526.9">4</text>
<text x="953.1" y="1526.9">5</text>
<text x="1003.5" y="1526.9">5</text>
<text x="1054" y="1526.9">5</text>
<text x="146.4" y="1542.6">5</text>
<text x="196.8" y="1542.6">4</text>
<text x="247.3" y="1542.6">4</text>
<text x="297.7" y="1542.6">4</text>
<text x="348.1" y="1542.6">3</text>
<text x="398.5" y="1542.6">4</text>
<text x="448.9" y="1542.6">3</text>
<text x="499.4" y="1542.6">3</text>
<text x="549.8" y="1542.6">3</text>
<text x="600.2" y="1542.6">3</text>
<text x="650.6" y="1542.6">2</text>
<text x="701" y="1542.6">2</text>
<text x="751.4" y="1542.6">2</text>
<text x="801.9" y="1542.6">3</text>
<text x="852.3" y="1542.6">3</text>
<text x="902.7" y="1542.6">4</text>
<text x="953.1" y="1542.6">4</text>
<text x="1003.5" y="1542.6">5</text>
<text x="1054" y="1542.6">5</text>
<text x="146.4" y="1558.2">5</text>
<text x="196.8" y="1558.2">5</text>
<text x="247.3" y="1558.2">4</text>
<text x="297.7" y="1558.2">4</text>
<text x="348.1" y="1558.2">4</text>
<text x="398.5" y="1558.2">4</text>
<text x="448.9" y="1558.2">4</text>
<text x="499.4" y="1558.2">3</text>
<text x="549.8" y="1558.2">3</text>
<text x="600.2" y="1558.2">2</text>
<text x="650.6" y="1558.2">2</text>
<text x="701" y="1558.2">2</text>
<text x="751.4" y="1558.2">2</text>
<text x="801.9" y="1558.2">2</text>
<text x="852.3" y="1558.2">3</text>
<text x="902.7" y="1558.2">3</text>
<text x="953.1" y="1558.2">4</text>
<text x="1003.5" y="1558.2">4</text>
<text x="1054" y="1558.2">5</text>
<text x="146.4" y="1573.9">5</text>
<text x="196.8" y="1573.9">5</text>
<text x="247.3" y="1573.9">5</text>
<text x="297.7" y="1573.9">4</text>
<text x="348.1" y="1573.9">4</text>
<text x="398.5" y="1573.9">4</text>
<text x="448.9" y="1573.9">4</text>
<text x="499.4" y="1573.9">4</text>
<text x="549.8" y="1573.9">3</text>
<text x="600.2" y="1573.9">3</text>
<text x="650.6" y="1573.9">2</text>
<text x="701" y="1573.9">2</text>
<text x="751.4" y="1573.9">2</text>
<text x="801.9" y="1573.9">3</text>
<text x="852.3" y="1573.9">3</text>
<text x="902.7" y="1573.9">4</text>
<text x="953.1" y="1573.9">4</text>
<text x="1003.5" y="1573.9">5</text>
<text x="1054" y="1573.9">5</text>
<text x="146.4" y="1589.5">5</text>
<text x="196.8" y="1589.5">5</text>
<text x="247.3" y="1589.5">5</text>
<text x="297.7" y="1589.5">5</text>
<text x="348.1" y="1589.5">4</text>
<text x="398.5" y="1589.5">4</text>
<text x="448.9" y="1589.5">4</text>
<text x="499.4" y="1589.5">4</text>
<text x="549.8" y="1589.5">3</text>
<text x="600.2" y="1589.5">3</text>
<text x="650.6" y="1589.5">2</text>
<text x="701" y="1589.5">2</text>
<text x="751.4" y="1589.5">3</text>
<text x="801.9" y="1589.5">3</text>
<text x="852.3" y="1589.5">3</text>
<text x="902.7" y="1589.5">4</text>
<text x="953.1" y="1589.5">4</text>
<text x="1003.5" y="1589.5">5</text>
<text x="1054" y="1589.5">5</text>
<text x="146.4" y="1605.2">4</text>
<text x="196.8" y="1605.2">4</text>
<text x="247.3" y="1605.2">4</text>
<text x="297.7" y="1605.2">3</text>
<text x="348.1" y="1605.2">4</text>
<text x="398.5" y="1605.2">4</text>
<text x="448.9" y="1605.2">4</text>
<text x="499.4" y="1605.2">5</text>
<text x="549.8" y="1605.2">5</text>
<text x="600.2" y="1605.2">5</text>
<text x="650.6" y="1605.2">5</text>
<text x="701" y="1605.2">5</text>
<text x="751.4" y="1605.2">5</text>
<text x="801.9" y="1605.2">5</text>
<text x="852.3" y="1605.2">6</text>
<text x="902.7" y="1605.2">6</text>
<text x="953.1" y="1605.2">7</text>
<text x="1003.5" y="1605.2">7</text>
<text x="1054" y="1605.2">7</text>
<text x="146.4" y="1620.9">5</text>
<text x="196.8" y="1620.9">5</text>
<text x="247.3" y="1620.9">4</text>
<text x="297.7" y="1620.9">4</text>
<text x="348.1" y="1620.9">4</text>
<text x="398.5" y="1620.9">5</text>
<text x="448.9" y="1620.9">5</text>
<text x="499.4" y="1620.9">5</text>
<text x="549.8" y="1620.9">5</text>
<text x="600.2" y="1620.9">5</text>
<text x="650.6" y="1620.9">5</text>
<text x="701" y="1620.9">5</text>
<text x="751.4" y="1620.9">6</text>
<text x="801.9" y="1620.9">6</text>
<text x="852.3" y="1620.9">6</text>
<text x="902.7" y="1620.9">6</text>
<text x="953.1" y="1620.9">7</text>
<text x="1003.5" y="1620.9">7</text>
<text x="1054" y="1620.9">7</text>
<text x="146.4" y="1636.5">5</text>
<text x="196.8" y="1636.5">5</text>
<text x="247.3" y="1636.5">5</text>
<text x="297.7" y="1636.5">4</text>
<text x="348.1" y="1636.5">4</text>
<text x="398.5" y="1636.5">5</text>
<text x="448.9" y="1636.5">5</text>
<text x="499.4" y="1636.5">5</text>
<text x="549.8" y="1636.5">5</text>
<text x="600.2" y="1636.5">6</text>
<text x="650.6" y="1636.5">6</text>
<text x="701" y="1636.5">5</text>
<text x="751.4" y="1636.5">6</text>
<text x="801.9" y="1636.5">6</text>
<text x="852.3" y="1636.5">6</text>
<text x="902.7" y="1636.5">7</text>
<text x="953.1" y="1636.5">7</text>
<text x="1003.5" y="1636.5">7</text>
<text x="1054" y="1636.5">7</text>
<text x="146.4" y="1652.2">5</text>
<text x="196.8" y="1652.2">5</text>
<text x="247.3" y="1652.2">5</text>
<text x="297.7" y="1652.2">5</text>
<text x="348.1" y="1652.2">5</text>
<text x="398.5" y="1652.2">5</text>
<text x="448.9" y="1652.2">5</text>
<text x="499.4" y="1652.2">5</text>
<text x="549.8" y="1652.2">6</text>
<text x="600.2" y="1652.2">6</text>
<text x="650.6" y="1652.2">6</text>
<text x="701" y="1652.2">6</text>
<text x="751.4" y="1652.2">6</text>
<text x="801.9" y="1652.2">6</text>
<text x="852.3" y="1652.2">7</text>
<text x="902.7" y="1652.2">7</text>
<text x="953.1" y="1652.2">7</text>
<text x="1003.5" y="1652.2">8</text>
<text x="1054" y="1652.2">8</text>
<text x="146.4" y="1667.8">6</text>
<text x="196.8" y="1667.8">5</text>
<text x="247.3" y="1667.8">5</text>
<text x="297.7" y="1667.8">5</text>
<text x="348.1" y="1667.8">5</text>
<text x="398.5" y="1667.8">5</text>
<text x="448.9" y="1667.8">5</text>
<text x="499.4" y="1667.8">6</text>
<text x="549.8" y="1667.8">6</text>
<text x="600.2" y="1667.8">6</text>
<text x="650.6" y="1667.8">6</text>
<text x="701" y="1667.8">6</text>
<text x="751.4" y="1667.8">6</text>
<text x="801.9" y="1667.8">7</text>
<text x="852.3" y="1667.8">7</text>
<text x="902.7" y="1667.8">7</text>
<text x="953.1" y="1667.8">8</text>
<text x="1003.5" y="1667.8">8</text>
<text x="1054" y="1667.8">8</text>
<text x="146.4" y="1683.5">6</text>
<text x="196.8" y="1683.5">6</text>
<text x="247.3" y="1683.5">5</text>
<text x="297.7" y="1683.5">5</text>
<text x="348.1" y="1683.5">5</text>
<text x="398.5" y="1683.5">5</text>
<text x="448.9" y="1683.5">6</text>
<text x="499.4" y="1683.5">6</text>
<text x="549.8" y="1683.5">6</text>
<text x="600.2" y="1683.5">7</text>
<text x="650.6" y="1683.5">7</text>
<text x="701" y="1683.5">6</text>
<text x="751.4" y="1683.5">7</text>
<text x="801.9" y="1683.5">7</text>
<text x="852.3" y="1683.5">7</text>
<text x="902.7" y="1683.5">7</text>
<text x="953.1" y="1683.5">8</text>
<text x="1003.5" y="1683.5">8</text>
<text x="1054" y="1683.5">8</text>
<text x="146.4" y="1699.2">6</text>
<text x="196.8" y="1699.2">6</text>
<text x="247.3" y="1699.2">6</text>
<text x="297.7" y="1699.2">6</text>
<text x="348.1" y="1699.2">6</text>
<text x="398.5" y="1699.2">6</text>
<text x="448.9" y="1699.2">6</text>
<text x="499.4" y="1699.2">6</text>
<text x="549.8" y="1699.2">7</text>
<text x="600.2" y="1699.2">7</text>
<text x="650.6" y="1699.2">7</text>
<text x="701" y="1699.2">7</text>
<text x="751.4" y="1699.2">7</text>
<text x="801.9" y="1699.2">7</text>
<text x="852.3" y="1699.2">7</text>
<text x="902.7" y="1699.2">8</text>
<text x="953.1" y="1699.2">8</text>
<text x="1003.5" y="1699.2">8</text>
<text x="1054" y="1699.2">8</text>
<text x="146.4" y="1714.8">7</text>
<text x="196.8" y="1714.8">6</text>
<text x="247.3" y="1714.8">6</text>
<text x="297.7" y="1714.8">6</text>
<text x="348.1" y="1714.8">6</text>
<text x="398.5" y="1714.8">6</text>
<text x="448.9" y="1714.8">6</text>
<text x="499.4" y="1714.8">7</text>
<text x="549.8" y="1714.8">7</text>
<text x="600.2" y="1714.8">7</text>
<text x="650.6" y="1714.8">7</text>
<text x="701" y="1714.8">7</text>
<text x="751.4" y="1714.8">7</text>
<text x="801.9" y="1714.8">7</text>
<text x="852.3" y="1714.8">7</text>
<text x="902.7" y="1714.8">8</text>
<text x="953.1" y="1714.8">8</text>
<text x="1003.5" y="1714.8">9</text>
<text x="1054" y="1714.8">9</text>
<text x="146.4" y="1730.5">7</text>
<text x="196.8" y="1730.5">6</text>
<text x="247.3" y="1730.5">6</text>
<text x="297.7" y="1730.5">6</text>
<text x="348.1" y="1730.5">6</text>
<text x="398.5" y="1730.5">6</text>
<text x="448.9" y="1730.5">7</text>
<text x="499.4" y="1730.5">7</text>
<text x="549.8" y="1730.5">7</text>
<text x="600.2" y="1730.5">7</text>
<text x="650.6" y="1730.5">7</text>
<text x="701" y="1730.5">7</text>
<text x="751.4" y="1730.5">7</text>
<text x="801.9" y="1730.5">7</text>
<text x="852.3" y="1730.5">8</text>
<text x="902.7" y="1730.5">8</text>
<text x="953.1" y="1730.5">8</text>
<text x="1003.5" y="1730.5">9</text>
<text x="1054" y="1730.5">9</text>
<text x="146.4" y="1746.2">7</text>
<text x="196.8" y="1746.2">7</text>
<text x="247.3" y="1746.2">6</text>
<text x="297.7" y="1746.2">6</text>
<text x="348.1" y="1746.2">6</text>
<text x="398.5" y="1746.2">7</text>
<text x="448.9" y="1746.2">7</text>
<text x="499.4" y="1746.2">7</text>
<text x="549.8" y="1746.2">7</text>
<text x="600.2" y="1746.2">7</text>
<text x="650.6" y="1746.2">7</text>
<text x="701" y="1746.2">7</text>
<text x="751.4" y="1746.2">7</text>
<text x="801.9" y="1746.2">8</text>
<text x="852.3" y="1746.2">8</text>
<text x="902.7" y="1746.2">8</text>
<text x="953.1" y="1746.2">9</text>
<text x="1003.5" y="1746.2">9</text>
<text x="1054" y="1746.2">9</text>
<text x="146.4" y="1761.8">7</text>
<text x="196.8" y="1761.8">7</text>
<text x="247.3" y="1761.8">7</text>
<text x="297.7" y="1761.8">7</text>
<text x="348.1" y="1761.8">7</text>
<text x="398.5" y="1761.8">7</text>
<text x="448.9" y="1761.8">7</text>
<text x="499.4" y="1761.8">7</text>
<text x="549.8" y="1761.8">7</text>
<text x="600.2" y="1761.8">8</text>
<text x="650.6" y="1761.8">8</text>
<text x="701" y="1761.8">7</text>
<text x="751.4" y="1761.8">8</text>
<text x="801.9" y="1761.8">8</text>
<text x="852.3" y="1761.8">8</text>
<text x="902.7" y="1761.8">8</text>
<text x="953.1" y="1761.8">9</text>
<text x="1003.5" y="1761.8">9</text>
<text x="1054" y="1761.8">9</text>
<text x="146.4" y="1777.5">7</text>
<text x="196.8" y="1777.5">7</text>
<text x="247.3" y="1777.5">7</text>
<text x="297.7" y="1777.5">7</text>
<text x="348.1" y="1777.5">7</text>
<text x="398.5" y="1777.5">7</text>
<text x="448.9" y="1777.5">7</text>
<text x="499.4" y="1777.5">7</text>
<text x="549.8" y="1777.5">8</text>
<text x="600.2" y="1777.5">8</text>
<text x="650.6" y="1777.5">8</text>
<text x="701" y="1777.5">8</text>
<text x="751.4" y="1777.5">8</text>
<text x="801.9" y="1777.5">8</text>
<text x="852.3" y="1777.5">8</text>
<text x="902.7" y="1777.5">9</text>
<text x="953.1" y="1777.5">9</text>
<text x="1003.5" y="1777.5">9</text>
<text x="1054" y="1777.5">9</text>
<text x="146.4" y="1793.1">8</text>
<text x="196.8" y="1793.1">7</text>
<text x="247.3" y="1793.1">7</text>
<text x="297.7" y="1793.1">7</text>
<text x="348.1" y="1793.1">7</text>
<text x="398.5" y="1793.1">7</text>
<text x="448.9" y="1793.1">7</text>
<text x="499.4" y="1793.1">8</text>
<text x="549.8" y="1793.1">8</text>
<text x="600.2" y="1793.1">8</text>
<text x="650.6" y="1793.1">8</text>
<text x="701" y="1793.1">8</text>
<text x="751.4" y="1793.1">8</text>
<text x="801.9" y="1793.1">8</text>
<text x="852.3" y="1793.1">8</text>
<text x="902.7" y="1793.1">9</text>
<text x="953.1" y="1793.1">9</text>
<text x="1003.5" y="1793.1">9</text>
<text x="1054" y="1793.1">10</text>
<text x="146.4" y="1808.8">8</text>
<text x="196.8" y="1808.8">7</text>
<text x="247.3" y="1808.8">7</text>
<text x="297.7" y="1808.8">7</text>
<text x="348.1" y="1808.8">7</text>
<text x="398.5" y="1808.8">7</text>
<text x="448.9" y="1808.8">8</text>
<text x="499.4" y="1808.8">8</text>
<text x="549.8" y="1808.8">8</text>
<text x="600.2" y="1808.8">8</text>
<text x="650.6" y="1808.8">8</text>
<text x="701" y="1808.8">8</text>
<text x="751.4" y="1808.8">8</text>
<text x="801.9" y="1808.8">8</text>
<text x="852.3" y="1808.8">9</text>
<text x="902.7" y="1808.8">9</text>
<text x="953.1" y="1808.8">9</text>
<text x="1003.5" y="1808.8">10</text>
<text x="1054" y="1808.8">10</text>
</g>
<g font-size="8.2" fill="#3c3c3c" text-anchor="middle">
<text x="79" y="54.3">工研院</text>
<text x="79" y="69.9">创新谷</text>
<text x="79" y="85.6">园博园</text>
<text x="79" y="101.2">大学城</text>
<text x="79" y="116.9">紫薇路</text>
<text x="79" y="132.6">赵营</text>
<text x="79" y="148.2">玉符河</text>
<text x="79" y="163.9">王府庄</text>
<text x="79" y="179.6">大杨</text>
<text x="79" y="195.2">济南西站</text>
<text x="79" y="210.9">方特</text>
<text x="79" y="226.5">王府庄</text>
<text x="79" y="242.2">腊山南</text>
<text x="79" y="257.9">腊山</text>
<text x="79" y="273.5">二环西路</text>
<text x="79" y="289.2">老屯</text>
<text x="79" y="304.9">八里桥</text>
<text x="79" y="320.5">益康路</text>
<text x="79" y="336.2">济南站北</text>
<text x="79" y="351.8">济泺路</text>
<text x="79" y="367.5">生产路</text>
<text x="79" y="383.2">北园</text>
<text x="79" y="398.8">历山路</text>
<text x="79" y="414.5">七里堡</text>
<text x="79" y="430.2">祝甸</text>
<text x="79" y="445.8">八涧堡</text>
<text x="79" y="461.5">姜家庄</text>
<text x="79" y="477.1">凤凰北路</text>
<text x="79" y="492.8">鲍山</text>
<text x="79" y="508.5">彭家庄</text>
<text x="79" y="524.1">龙洞</text>
<text x="79" y="539.8">孟家庄</text>
<text x="79" y="555.4">龙奥大厦</text>
<text x="79" y="571.1">奥体中心</text>
<text x="79" y="586.8">安成街</text>
<text x="79" y="602.4">丁家庄</text>
<text x="79" y="618.1">花园东路</text>
<text x="79" y="633.8">八涧堡</text>
<text x="79" y="649.4">张马屯</text>
<text x="79" y="665.1">王舍人</text>
<text x="79" y="680.7">裴家营</text>
<text x="79" y="696.4">济南东站</text>
<text x="79" y="712.1">滩头</text>
<text x="79" y="727.7">曲家庄</text>
<text x="79" y="743.4">川流</text>
<text x="79" y="759.1">临港北路</text>
<text x="79" y="774.7">临空</text>
<text x="79" y="790.4">机场南</text>
<text x="79" y="806">机场北</text>
<text x="79" y="821.7">第一医科大学</text>
<text x="79" y="837.4">春风悦动公园</text>
<text x="79" y="853">济南西站西广场</text>
<text x="79" y="868.7">大杨</text>
<text x="79" y="884.3">腊山河公园</text>
<text x="79" y="900">腊山</text>
<text x="79" y="915.7">段店</text>
<text x="79" y="931.3">营市街</text>
<text x="79" y="947">南辛庄</text>
<text x="79" y="962.7">五里牌坊</text>
<text x="79" y="978.3">八一立交桥</text>
<text x="79" y="994">省体育中心</text>
<text x="79" y="1009.6">泉城公园</text>
<text x="79" y="1025.3">千佛山</text>
<text x="79" y="1041">山师东路</text>
<text x="79" y="1056.6">山大路南口</text>
<text x="79" y="1072.3">燕山立交桥</text>
<text x="79" y="1088">浆水泉路</text>
<text x="79" y="1103.6">山东博物馆</text>
<text x="79" y="1119.3" letter-spacing="0.35">转山西路(万象城)</text>
<text x="79" y="1134.9">奥体中心</text>
<text x="79" y="1150.6">奥体东路</text>
<text x="79" y="1166.3">舜泰广场</text>
<text x="79" y="1181.9">汉峪金谷</text>
<text x="79" y="1197.6">林家庄</text>
<text x="79" y="1213.2">黄金产业园</text>
<text x="79" y="1228.9">文旅城</text>
<text x="79" y="1244.6">邢村立交桥西</text>
<text x="79" y="1260.2">邢村立交桥东</text>
<text x="79" y="1275.9">唐冶公园</text>
<text x="79" y="1291.6">唐冶</text>
<text x="79" y="1307.2">历城二中唐冶校区</text>
<text x="79" y="1322.9">彭家庄</text>
<text x="79" y="1338.5">山东大学</text>
<text x="79" y="1354.2">山大南路东口</text>
<text x="79" y="1369.9">七里河路南口</text>
<text x="79" y="1385.5">茂陵山</text>
<text x="79" y="1401.2">中央商务区</text>
<text x="79" y="1416.9">安成街</text>
<text x="79" y="1432.5">天泺路</text>
<text x="79" y="1448.2">齐鲁软件园</text>
<text x="79" y="1463.8">开拓路</text>
<text x="79" y="1479.5">世纪大道</text>
<text x="79" y="1495.2">徐家庄</text>
<text x="79" y="1510.8">凤凰北路</text>
<text x="79" y="1526.5">王舍人立交桥</text>
<text x="79" y="1542.2">响泉街</text>
<text x="79" y="1557.8">济南东站</text>
<text x="79" y="1573.5">梁王西</text>
<text x="79" y="1589.1">梁王</text>
<text x="79" y="1604.8">邢村立交桥东</text>
<text x="79" y="1620.5">青年政治学院</text>
<text x="79" y="1636.1">超算中心</text>
<text x="79" y="1651.8">公路技师学院</text>
<text x="79" y="1667.4">春博路</text>
<text x="79" y="1683.1">山东职业学院</text>
<text x="79" y="1698.8">山东现代学院</text>
<text x="79" y="1714.4">山财章丘校区</text>
<text x="79" y="1730.1">黄土崖</text>
<text x="79" y="1745.8">黄旗山北</text>
<text x="79" y="1761.4">圣井</text>
<text x="79" y="1777.1">山大龙山</text>
<text x="79" y="1792.7">绣源河</text>
<text x="79" y="1808.4">清源大街</text>
<text x="600.9" y="10.4">3号线</text>
<text x="79.7" y="12">线路</text>
<text x="18.4" y="34.8">线路</text>
<text x="79.7" y="33.2">车站</text>
<text x="146.1" y="34.8">龙洞</text>
<text x="196.5" y="34.8">孟家庄</text>
<text x="247" y="34.8">龙奥大厦</text>
<text x="297.4" y="34.8">奥体中心</text>
<text x="347.8" y="34.8">安成街</text>
<text x="398.2" y="34.8">丁家庄</text>
<text x="448.6" y="34.8">花园东路</text>
<text x="499.1" y="34.8">八涧堡</text>
<text x="549.5" y="34.8">张马屯</text>
<text x="599.9" y="34.8">王舍人</text>
<text x="650.3" y="34.8">裴家营</text>
<text x="700.7" y="34.8">济南东站</text>
<text x="751.1" y="34.8">滩头</text>
<text x="801.6" y="34.8">曲家庄</text>
<text x="852" y="34.8">川流</text>
<text x="902.4" y="34.8">临港北路</text>
<text x="952.8" y="34.8">临空</text>
<text x="1003.2" y="34.8">机场南</text>
<text x="1053.7" y="34.8">机场北</text>
<text x="18.7" y="121">1</text>
<text x="18.7" y="131">号</text>
<text x="18.7" y="141">线</text>
<text x="18.7" y="356">2</text>
<text x="18.7" y="366">号</text>
<text x="18.7" y="376">线</text>
<text x="18.7" y="653.5">3</text>
<text x="18.7" y="663.5">号</text>
<text x="18.7" y="673.5">线</text>
<text x="18.7" y="1060.8">4</text>
<text x="18.7" y="1070.8">号</text>
<text x="18.7" y="1080.8">线</text>
<text x="18.7" y="1442.3">6</text>
<text x="18.7" y="1452.3">号</text>
<text x="18.7" y="1462.3">线</text>
<text x="18.7" y="1472.3">东</text>
<text x="18.7" y="1482.3">段</text>
<text x="18.7" y="1695.1">8</text>
<text x="18.7" y="1705.1">号</text>
<text x="18.7" y="1715.1">线</text>
</g>
<g fill="#000">
<rect x="0" y="0" width="1080" height="1.7"/>
<rect x="-0.1" y="15.7" width="1079.8" height="1.8"/>
<rect x="-0.1" y="41.1" width="1079.8" height="1.8"/>
<rect x="35.1" y="56.8" width="1044.7" height="1.8"/>
<rect x="35.1" y="72.4" width="1044.7" height="1.8"/>
<rect x="35.1" y="88.1" width="1044.7" height="1.8"/>
<rect x="35.1" y="103.7" width="1044.7" height="1.8"/>
<rect x="35.1" y="119.4" width="1044.7" height="1.8"/>
<rect x="35.1" y="135.1" width="1044.7" height="1.8"/>
<rect x="35.1" y="150.7" width="1044.7" height="1.8"/>
<rect x="35.1" y="166.4" width="1044.7" height="1.8"/>
<rect x="35.1" y="182.1" width="1044.7" height="1.8"/>
<rect x="35.1" y="197.7" width="1044.7" height="1.8"/>
<rect x="-0.1" y="213.4" width="1079.8" height="1.8"/>
<rect x="35.1" y="229" width="1044.7" height="1.8"/>
<rect x="35.1" y="244.7" width="1044.7" height="1.8"/>
<rect x="35.1" y="260.4" width="1044.7" height="1.8"/>
<rect x="35.1" y="276" width="1044.7" height="1.8"/>
<rect x="35.1" y="291.7" width="1044.7" height="1.8"/>
<rect x="35.1" y="307.4" width="1044.7" height="1.8"/>
<rect x="35.1" y="323" width="1044.7" height="1.8"/>
<rect x="35.1" y="338.7" width="1044.7" height="1.8"/>
<rect x="35.1" y="354.3" width="1044.7" height="1.8"/>
<rect x="35.1" y="370" width="1044.7" height="1.8"/>
<rect x="35.1" y="385.7" width="1044.7" height="1.8"/>
<rect x="35.1" y="401.3" width="1044.7" height="1.8"/>
<rect x="35.1" y="417" width="1044.7" height="1.8"/>
<rect x="35.1" y="432.7" width="1044.7" height="1.8"/>
<rect x="35.1" y="448.3" width="1044.7" height="1.8"/>
<rect x="35.1" y="464" width="1044.7" height="1.8"/>
<rect x="35.1" y="479.6" width="1044.7" height="1.8"/>
<rect x="35.1" y="495.3" width="1044.7" height="1.8"/>
<rect x="-0.1" y="511" width="1079.8" height="1.8"/>
<rect x="35.1" y="526.6" width="1044.7" height="1.8"/>
<rect x="35.1" y="542.3" width="1044.7" height="1.8"/>
<rect x="35.1" y="557.9" width="1044.7" height="1.8"/>
<rect x="35.1" y="573.6" width="1044.7" height="1.8"/>
<rect x="35.1" y="589.3" width="1044.7" height="1.8"/>
<rect x="35.1" y="604.9" width="1044.7" height="1.8"/>
<rect x="35.1" y="620.6" width="1044.7" height="1.8"/>
<rect x="35.1" y="636.3" width="1044.7" height="1.8"/>
<rect x="35.1" y="651.9" width="1044.7" height="1.8"/>
<rect x="35.1" y="667.6" width="1044.7" height="1.8"/>
<rect x="35.1" y="683.2" width="1044.7" height="1.8"/>
<rect x="35.1" y="698.9" width="1044.7" height="1.8"/>
<rect x="35.1" y="714.6" width="1044.7" height="1.8"/>
<rect x="35.1" y="730.2" width="1044.7" height="1.8"/>
<rect x="35.1" y="745.9" width="1044.7" height="1.8"/>
<rect x="35.1" y="761.6" width="1044.7" height="1.8"/>
<rect x="35.1" y="777.2" width="1044.7" height="1.8"/>
<rect x="35.1" y="792.9" width="1044.7" height="1.8"/>
<rect x="-0.1" y="808.5" width="1079.8" height="1.8"/>
<rect x="35.1" y="824.2" width="1044.7" height="1.8"/>
<rect x="35.1" y="839.9" width="1044.7" height="1.8"/>
<rect x="35.1" y="855.5" width="1044.7" height="1.8"/>
<rect x="35.1" y="871.2" width="1044.7" height="1.8"/>
<rect x="35.1" y="886.8" width="1044.7" height="1.8"/>
<rect x="35.1" y="902.5" width="1044.7" height="1.8"/>
<rect x="35.1" y="918.2" width="1044.7" height="1.8"/>
<rect x="35.1" y="933.8" width="1044.7" height="1.8"/>
<rect x="35.1" y="949.5" width="1044.7" height="1.8"/>
<rect x="35.1" y="965.2" width="1044.7" height="1.8"/>
<rect x="35.1" y="980.8" width="1044.7" height="1.8"/>
<rect x="35.1" y="996.5" width="1044.7" height="1.8"/>
<rect x="35.1" y="1012.1" width="1044.7" height="1.8"/>
<rect x="35.1" y="1027.8" width="1044.7" height="1.8"/>
<rect x="35.1" y="1043.5" width="1044.7" height="1.8"/>
<rect x="35.1" y="1059.1" width="1044.7" height="1.8"/>
<rect x="35.1" y="1074.8" width="1044.7" height="1.8"/>
<rect x="35.1" y="1090.5" width="1044.7" height="1.8"/>
<rect x="35.1" y="1106.1" width="1044.7" height="1.8"/>
<rect x="35.1" y="1121.8" width="1044.7" height="1.8"/>
<rect x="35.1" y="1137.4" width="1044.7" height="1.8"/>
<rect x="35.1" y="1153.1" width="1044.7" height="1.8"/>
<rect x="35.1" y="1168.8" width="1044.7" height="1.8"/>
<rect x="35.1" y="1184.4" width="1044.7" height="1.8"/>
<rect x="35.1" y="1200.1" width="1044.7" height="1.8"/>
<rect x="35.1" y="1215.8" width="1044.7" height="1.8"/>
<rect x="35.1" y="1231.4" width="1044.7" height="1.8"/>
<rect x="35.1" y="1247.1" width="1044.7" height="1.8"/>
<rect x="35.1" y="1262.7" width="1044.7" height="1.8"/>
<rect x="35.1" y="1278.4" width="1044.7" height="1.8"/>
<rect x="35.1" y="1294.1" width="1044.7" height="1.8"/>
<rect x="35.1" y="1309.7" width="1044.7" height="1.8"/>
<rect x="-0.1" y="1325.4" width="1079.8" height="1.8"/>
<rect x="35.1" y="1341" width="1044.7" height="1.8"/>
<rect x="35.1" y="1356.7" width="1044.7" height="1.8"/>
<rect x="35.1" y="1372.4" width="1044.7" height="1.8"/>
<rect x="35.1" y="1388" width="1044.7" height="1.8"/>
<rect x="35.1" y="1403.7" width="1044.7" height="1.8"/>
<rect x="35.1" y="1419.4" width="1044.7" height="1.8"/>
<rect x="35.1" y="1435" width="1044.7" height="1.8"/>
<rect x="35.1" y="1450.7" width="1044.7" height="1.8"/>
<rect x="35.1" y="1466.3" width="1044.7" height="1.8"/>
<rect x="35.1" y="1482" width="1044.7" height="1.8"/>
<rect x="35.1" y="1497.7" width="1044.7" height="1.8"/>
<rect x="35.1" y="1513.3" width="1044.7" height="1.8"/>
<rect x="35.1" y="1529" width="1044.7" height="1.8"/>
<rect x="35.1" y="1544.7" width="1044.7" height="1.8"/>
<rect x="35.1" y="1560.3" width="1044.7" height="1.8"/>
<rect x="35.1" y="1576" width="1044.7" height="1.8"/>
<rect x="-0.1" y="1591.6" width="1079.8" height="1.8"/>
<rect x="35.1" y="1607.3" width="1044.7" height="1.8"/>
<rect x="35.1" y="1623" width="1044.7" height="1.8"/>
<rect x="35.1" y="1638.6" width="1044.7" height="1.8"/>
<rect x="35.1" y="1654.3" width="1044.7" height="1.8"/>
<rect x="35.1" y="1669.9" width="1044.7" height="1.8"/>
<rect x="35.1" y="1685.6" width="1044.7" height="1.8"/>
<rect x="35.1" y="1701.3" width="1044.7" height="1.8"/>
<rect x="35.1" y="1716.9" width="1044.7" height="1.8"/>
<rect x="35.1" y="1732.6" width="1044.7" height="1.8"/>
<rect x="35.1" y="1748.3" width="1044.7" height="1.8"/>
<rect x="35.1" y="1763.9" width="1044.7" height="1.8"/>
<rect x="35.1" y="1779.6" width="1044.7" height="1.8"/>
<rect x="35.1" y="1795.2" width="1044.7" height="1.8"/>
<rect x="0" y="1810.9" width="1080" height="2.1"/>
<rect x="0" y="0" width="1.7" height="1813"/>
<rect x="35.1" y="-0.1" width="1.8" height="1812.8"/>
<rect x="120" y="-0.1" width="1.8" height="1812.8"/>
<rect x="170.4" y="15.7" width="1.8" height="1797"/>
<rect x="220.8" y="15.7" width="1.8" height="1797"/>
<rect x="271.3" y="15.7" width="1.8" height="1797"/>
<rect x="321.7" y="15.7" width="1.8" height="1797"/>
<rect x="372.1" y="15.7" width="1.8" height="1797"/>
<rect x="422.5" y="15.7" width="1.8" height="1797"/>
<rect x="472.9" y="15.7" width="1.8" height="1797"/>
<rect x="523.4" y="15.7" width="1.8" height="1797"/>
<rect x="573.8" y="15.7" width="1.8" height="1797"/>
<rect x="624.2" y="15.7" width="1.8" height="1797"/>
<rect x="674.6" y="15.7" width="1.8" height="1797"/>
<rect x="725" y="15.7" width="1.8" height="1797"/>
<rect x="775.5" y="15.7" width="1.8" height="1797"/>
<rect x="825.9" y="15.7" width="1.8" height="1797"/>
<rect x="876.3" y="15.7" width="1.8" height="1797"/>
<rect x="926.7" y="15.7" width="1.8" height="1797"/>
<rect x="977.1" y="15.7" width="1.8" height="1797"/>
<rect x="1027.6" y="15.7" width="1.8" height="1797"/>
<rect x="1078" y="0" width="2" height="1813"/>
</g>
</svg>
</body></html>
